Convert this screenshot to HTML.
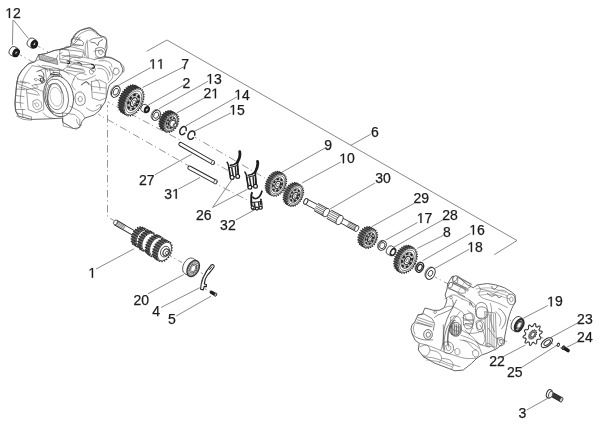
<!DOCTYPE html>
<html><head><meta charset="utf-8"><style>
html,body{margin:0;padding:0;background:#fff;}
svg{display:block;will-change:transform;}
text{font-family:"Liberation Sans",sans-serif;font-size:14px;fill:#1c1c1c;stroke:#1c1c1c;stroke-width:0.25px;}
</style></head><body>
<svg width="600" height="424" viewBox="0 0 600 424">
<polyline points="146.7,51.3 167.0,40.0 517.0,240.5 494.2,254.7" fill="none" stroke="#6a6a6a" stroke-width="0.8"/>
<line x1="13" y1="20" x2="12.4" y2="44.8" stroke="#6a6a6a" stroke-width="0.8"/>
<line x1="13.5" y1="20" x2="28.3" y2="38.4" stroke="#6a6a6a" stroke-width="0.8"/>
<line x1="150.8" y1="67.5" x2="116.7" y2="86.3" stroke="#6a6a6a" stroke-width="0.8"/>
<line x1="184" y1="66.7" x2="142.5" y2="87.5" stroke="#6a6a6a" stroke-width="0.8"/>
<line x1="184" y1="85" x2="148.3" y2="105" stroke="#6a6a6a" stroke-width="0.8"/>
<line x1="208" y1="81.3" x2="159" y2="108.7" stroke="#6a6a6a" stroke-width="0.8"/>
<line x1="204.2" y1="98" x2="176.7" y2="113" stroke="#6a6a6a" stroke-width="0.8"/>
<line x1="236.7" y1="97" x2="185.8" y2="125.8" stroke="#6a6a6a" stroke-width="0.8"/>
<line x1="230.8" y1="113" x2="194" y2="131.5" stroke="#6a6a6a" stroke-width="0.8"/>
<line x1="350.8" y1="145.3" x2="370.8" y2="134.2" stroke="#6a6a6a" stroke-width="0.8"/>
<line x1="325" y1="148" x2="280" y2="173.3" stroke="#6a6a6a" stroke-width="0.8"/>
<line x1="340.8" y1="162" x2="302" y2="183" stroke="#6a6a6a" stroke-width="0.8"/>
<line x1="155" y1="174.7" x2="191.7" y2="154.2" stroke="#6a6a6a" stroke-width="0.8"/>
<line x1="178.3" y1="189.2" x2="200" y2="177.5" stroke="#6a6a6a" stroke-width="0.8"/>
<line x1="212.5" y1="207.5" x2="231.7" y2="180" stroke="#6a6a6a" stroke-width="0.8"/>
<line x1="212.5" y1="207.5" x2="247.5" y2="189.2" stroke="#6a6a6a" stroke-width="0.8"/>
<line x1="235.8" y1="220" x2="254.2" y2="210" stroke="#6a6a6a" stroke-width="0.8"/>
<line x1="375" y1="183" x2="330" y2="209" stroke="#6a6a6a" stroke-width="0.8"/>
<line x1="414.2" y1="203.3" x2="371.7" y2="226.7" stroke="#6a6a6a" stroke-width="0.8"/>
<line x1="417.5" y1="222.5" x2="385.8" y2="240" stroke="#6a6a6a" stroke-width="0.8"/>
<line x1="443" y1="219.7" x2="393.3" y2="247.5" stroke="#6a6a6a" stroke-width="0.8"/>
<line x1="443.3" y1="235.3" x2="417.5" y2="248.3" stroke="#6a6a6a" stroke-width="0.8"/>
<line x1="470.5" y1="233.3" x2="422.5" y2="260.8" stroke="#6a6a6a" stroke-width="0.8"/>
<line x1="469.2" y1="249.2" x2="435" y2="268.3" stroke="#6a6a6a" stroke-width="0.8"/>
<line x1="96" y1="269" x2="134" y2="248.8" stroke="#6a6a6a" stroke-width="0.8"/>
<line x1="148" y1="293.8" x2="183.8" y2="274.5" stroke="#6a6a6a" stroke-width="0.8"/>
<line x1="161" y1="307.5" x2="199.8" y2="287.7" stroke="#6a6a6a" stroke-width="0.8"/>
<line x1="176.2" y1="316" x2="211" y2="296.2" stroke="#6a6a6a" stroke-width="0.8"/>
<line x1="547.8" y1="305.5" x2="521.9" y2="319" stroke="#6a6a6a" stroke-width="0.8"/>
<line x1="578.5" y1="322.5" x2="550.2" y2="337.8" stroke="#6a6a6a" stroke-width="0.8"/>
<line x1="578.5" y1="341.4" x2="566.7" y2="347.3" stroke="#6a6a6a" stroke-width="0.8"/>
<line x1="500.6" y1="358" x2="525.4" y2="345" stroke="#6a6a6a" stroke-width="0.8"/>
<line x1="521.9" y1="367.3" x2="557.3" y2="345" stroke="#6a6a6a" stroke-width="0.8"/>
<line x1="526.7" y1="410" x2="549.2" y2="397.5" stroke="#6a6a6a" stroke-width="0.8"/>
<polyline points="19.8,54.7 34.0,62.8" fill="none" stroke="#7a7a7a" stroke-width="0.8" stroke-dasharray="7.5 2.8 1.2 3.5" stroke-dashoffset="5"/>
<polyline points="38.2,46.2 48.0,51.8" fill="none" stroke="#7a7a7a" stroke-width="0.8" stroke-dasharray="7.5 2.8 1.2 3.5" stroke-dashoffset="5"/>
<polyline points="107.5,101.7 180.0,140.0" fill="none" stroke="#7a7a7a" stroke-width="0.8" stroke-dasharray="7.5 2.8 1.2 3.5" stroke-dashoffset="5"/>
<polyline points="98.3,114.2 189.0,166.0" fill="none" stroke="#7a7a7a" stroke-width="0.8" stroke-dasharray="7.5 2.8 1.2 3.5" stroke-dashoffset="5"/>
<polyline points="107.5,105.0 107.5,217.0 114.0,220.5" fill="none" stroke="#7a7a7a" stroke-width="0.8" stroke-dasharray="7.5 2.8 1.2 3.5" stroke-dashoffset="5"/>
<polyline points="194.5,137.0 266.5,179.0" fill="none" stroke="#7a7a7a" stroke-width="0.8" stroke-dasharray="7.5 2.8 1.2 3.5" stroke-dashoffset="5"/>
<polyline points="214.5,183.0 251.0,202.0" fill="none" stroke="#7a7a7a" stroke-width="0.8" stroke-dasharray="7.5 2.8 1.2 3.5" stroke-dashoffset="5"/>
<polyline points="213.0,162.0 228.0,170.5" fill="none" stroke="#7a7a7a" stroke-width="0.8" stroke-dasharray="7.5 2.8 1.2 3.5" stroke-dashoffset="5"/>
<polyline points="169.6,255.7 182.0,262.5" fill="none" stroke="#7a7a7a" stroke-width="0.8" stroke-dasharray="7.5 2.8 1.2 3.5" stroke-dashoffset="5"/>
<polyline points="200.8,272.6 205.0,275.0" fill="none" stroke="#7a7a7a" stroke-width="0.8" stroke-dasharray="7.5 2.8 1.2 3.5" stroke-dashoffset="5"/>
<polyline points="204.5,288.7 211.0,291.5" fill="none" stroke="#7a7a7a" stroke-width="0.8" stroke-dasharray="7.5 2.8 1.2 3.5" stroke-dashoffset="5"/>
<polyline points="435.0,277.0 452.0,286.0" fill="none" stroke="#7a7a7a" stroke-width="0.8" stroke-dasharray="7.5 2.8 1.2 3.5" stroke-dashoffset="5"/>
<polyline points="505.0,318.0 512.0,321.0" fill="none" stroke="#7a7a7a" stroke-width="0.8" stroke-dasharray="7.5 2.8 1.2 3.5" stroke-dashoffset="5"/>
<polyline points="525.0,329.0 528.0,331.0" fill="none" stroke="#7a7a7a" stroke-width="0.8" stroke-dasharray="7.5 2.8 1.2 3.5" stroke-dashoffset="5"/>
<polyline points="541.0,337.0 545.0,339.0" fill="none" stroke="#7a7a7a" stroke-width="0.8" stroke-dasharray="7.5 2.8 1.2 3.5" stroke-dashoffset="5"/>
<polyline points="551.0,343.0 563.0,349.0" fill="none" stroke="#7a7a7a" stroke-width="0.8" stroke-dasharray="7.5 2.8 1.2 3.5" stroke-dashoffset="5"/>
<polygon points="15.8,111.2 15.0,102.9 15.8,93.0 16.6,84.8 18.3,76.5 22.4,69.9 28.2,64.1 35.0,61.8 38.6,54.8 45.7,53.6 53.9,50.6 62.2,48.9 70.4,46.5 71.8,40.3 76.0,34.0 80.6,30.3 89.5,27.9 95.4,31.4 98.9,35.0 103.0,36.5 106.6,40.0 107.0,48.0 104.5,56.8 111.6,58.2 120.0,62.4 122.9,69.5 121.9,73.3 116.1,79.9 109.5,84.8 107.9,89.8 106.5,97.0 105.0,102.0 103.0,105.0 99.0,111.0 94.0,115.0 85.0,118.0 82.0,121.5 80.0,126.5 76.5,129.0 73.5,128.5 62.5,122.0 62.5,118.0 55.0,118.5 45.0,119.0 31.5,119.4 18.3,116.0" fill="#fff" stroke="#555" stroke-width="0.9" stroke-linejoin="round"/>
<path d="M28.2,64.1 C27.2,65.1 24.0,67.8 22.4,69.9 C20.7,72.0 19.2,74.0 18.3,76.5 C17.3,79.0 17.0,82.0 16.6,84.8 C16.2,87.5 16.1,90.0 15.8,93.0 C15.5,96.0 15.0,99.9 15.0,102.9 C15.0,105.9 15.2,109.2 15.8,111.2 C16.3,113.1 17.8,113.9 18.3,114.5" fill="none" stroke="#555" stroke-width="0.8" stroke-linejoin="round" stroke-linecap="round"/>
<path d="M31.5,66.6 C30.6,67.7 27.9,71.0 26.5,73.2 C25.1,75.4 24.0,77.3 23.2,79.8 C22.4,82.3 22.0,85.6 21.6,88.1 C21.1,90.5 20.9,92.5 20.7,94.7 C20.5,96.9 20.2,99.1 20.2,101.3 C20.3,103.5 20.8,106.8 20.9,107.9" fill="none" stroke="#5c5c5c" stroke-width="0.6" stroke-linejoin="round" stroke-linecap="round"/>
<path d="M16.6,81.5 L25.7,83.1" fill="none" stroke="#5c5c5c" stroke-width="0.6" stroke-linejoin="round" stroke-linecap="round"/>
<path d="M16.3,88.9 L24.9,89.7" fill="none" stroke="#5c5c5c" stroke-width="0.6" stroke-linejoin="round" stroke-linecap="round"/>
<path d="M15.8,95.5 L24.0,96.6" fill="none" stroke="#5c5c5c" stroke-width="0.6" stroke-linejoin="round" stroke-linecap="round"/>
<path d="M15.4,102.1 L23.2,103.2" fill="none" stroke="#5c5c5c" stroke-width="0.6" stroke-linejoin="round" stroke-linecap="round"/>
<path d="M15.8,109.5 L24.9,109.5" fill="none" stroke="#5c5c5c" stroke-width="0.6" stroke-linejoin="round" stroke-linecap="round"/>
<ellipse cx="0" cy="0" rx="14.60" ry="20.60" transform="translate(58.60 96.30) rotate(-12.0)" fill="#fff" stroke="#555" stroke-width="0.9"/>
<ellipse cx="0" cy="0" rx="11.40" ry="17.60" transform="translate(56.80 96.40) rotate(-12.0)" fill="none" stroke="#5a5a5a" stroke-width="0.8"/>
<ellipse cx="0" cy="0" rx="8.20" ry="13.40" transform="translate(55.20 96.60) rotate(-12.0)" fill="none" stroke="#666" stroke-width="0.7"/>
<path d="M51.5,84.5 C47.8,89 46.8,99 48.6,106.5 C49.6,110 51.2,111.8 53.4,112.6" fill="none" stroke="#444" stroke-width="1.0"/>
<ellipse cx="0" cy="0" rx="5.80" ry="9.60" transform="translate(56.00 96.80) rotate(-12.0)" fill="none" stroke="#999" stroke-width="0.6"/>
<path d="M26.5,89.7 L34.8,88.1 L43.0,91.4 L43.8,109.5 L36.4,112.8 L28.2,109.5 L26.5,89.7" fill="none" stroke="#5c5c5c" stroke-width="0.6" stroke-linejoin="round" stroke-linecap="round"/>
<path d="M33.1,101.3 C33.8,101.0 35.9,99.3 37.2,99.6 C38.6,99.9 40.7,101.5 41.4,102.9 C42.0,104.3 41.8,106.8 41.0,107.9 C40.2,109.0 37.7,109.8 36.4,109.5 C35.1,109.2 33.7,107.6 33.1,106.2 C32.6,104.8 33.1,102.1 33.1,101.3" fill="none" stroke="#5c5c5c" stroke-width="0.6" stroke-linejoin="round" stroke-linecap="round"/>
<path d="M34.8,103.7 C35.2,103.6 36.5,102.6 37.2,102.9 C37.9,103.2 39.0,104.7 38.9,105.4 C38.8,106.1 37.4,107.3 36.7,107.0 C36.0,106.8 35.1,104.3 34.8,103.7" fill="none" stroke="#5c5c5c" stroke-width="0.5" stroke-linejoin="round" stroke-linecap="round"/>
<path d="M16.6,112.8 L23.2,114.5 L31.5,116.9 L31.5,120.2 L23.2,119.4 L16.6,116.1" fill="none" stroke="#5c5c5c" stroke-width="0.6" stroke-linejoin="round" stroke-linecap="round"/>
<path d="M22.4,109.5 L22.9,117.8" fill="none" stroke="#5c5c5c" stroke-width="0.6" stroke-linejoin="round" stroke-linecap="round"/>
<path d="M38.1,65.0 C39.7,65.8 43.8,69.1 48.0,69.9 C52.1,70.7 59.2,71.0 62.8,69.9 C66.4,68.8 68.3,64.4 69.4,63.3" fill="none" stroke="#5c5c5c" stroke-width="0.6" stroke-linejoin="round" stroke-linecap="round"/>
<path d="M34.8,84.8 C36.1,84.5 40.8,84.2 43.0,83.1 C45.2,82.0 46.6,79.8 48.0,78.2 C49.3,76.5 50.7,74.0 51.3,73.2" fill="none" stroke="#5c5c5c" stroke-width="0.6" stroke-linejoin="round" stroke-linecap="round"/>
<path d="M38.9,75.7 C39.4,75.8 41.4,75.8 42.2,76.5 C43.0,77.2 44.0,78.8 43.8,79.8 C43.7,80.8 41.8,81.9 41.4,82.3" fill="none" stroke="#333" stroke-width="0.9" stroke-linejoin="round" stroke-linecap="round"/>
<path d="M43.0,112.8 C43.8,113.5 46.0,116.0 48.0,116.9 C49.9,117.9 53.5,118.3 54.6,118.6" fill="none" stroke="#5c5c5c" stroke-width="0.6" stroke-linejoin="round" stroke-linecap="round"/>
<path d="M38.6,54.8 C39.8,54.6 43.1,54.3 45.7,53.6 C48.2,52.9 51.2,51.4 53.9,50.6 C56.7,49.9 59.4,49.6 62.2,48.9 C64.9,48.2 68.1,47.7 70.4,46.5 C72.8,45.3 74.7,43.4 76.3,41.8 C77.9,40.2 79.4,37.9 80.0,37.1" fill="none" stroke="#555" stroke-width="0.7" stroke-linejoin="round" stroke-linecap="round"/>
<path d="M39.2,55.4 L40.4,59.5 L48.0,61.8 L56.3,59.5 L57.5,55.4" fill="none" stroke="#5c5c5c" stroke-width="0.6" stroke-linejoin="round" stroke-linecap="round"/>
<path d="M41.5,56.5 L43.3,60.1" fill="none" stroke="#888" stroke-width="0.5" stroke-linejoin="round" stroke-linecap="round"/>
<path d="M43.9,56.9 L45.7,60.4" fill="none" stroke="#888" stroke-width="0.5" stroke-linejoin="round" stroke-linecap="round"/>
<path d="M46.2,57.2 L48.0,60.8" fill="none" stroke="#888" stroke-width="0.5" stroke-linejoin="round" stroke-linecap="round"/>
<path d="M48.6,57.6 L50.4,61.1" fill="none" stroke="#888" stroke-width="0.5" stroke-linejoin="round" stroke-linecap="round"/>
<path d="M51.0,57.9 L52.7,61.5" fill="none" stroke="#888" stroke-width="0.5" stroke-linejoin="round" stroke-linecap="round"/>
<path d="M53.3,58.3 L55.1,61.8" fill="none" stroke="#888" stroke-width="0.5" stroke-linejoin="round" stroke-linecap="round"/>
<path d="M59.8,50.6 C60.1,50.3 60.3,49.0 61.6,48.9 C62.9,48.8 66.2,49.5 67.5,50.0 C68.8,50.6 68.9,50.5 69.2,52.4 C69.6,54.3 70.0,59.5 69.8,61.2 C69.6,63.0 69.4,62.9 68.1,63.0 C66.7,63.1 63.0,62.3 61.6,61.8 C60.2,61.3 60.1,61.9 59.8,60.1 C59.5,58.2 59.8,52.2 59.8,50.6" fill="none" stroke="#5c5c5c" stroke-width="0.6" stroke-linejoin="round" stroke-linecap="round"/>
<path d="M71.6,39.4 C72.0,39.0 72.8,37.3 74.0,37.1 C75.1,36.9 77.7,37.7 78.7,38.3 C79.7,38.8 79.8,40.2 80.0,40.6" fill="none" stroke="#5c5c5c" stroke-width="0.6" stroke-linejoin="round" stroke-linecap="round"/>
<path d="M71.6,39.4 C71.6,40.2 70.8,43.1 71.6,44.2 C72.4,45.2 74.9,45.7 76.3,45.9 C77.7,46.1 79.4,45.4 80.0,45.3" fill="none" stroke="#5c5c5c" stroke-width="0.6" stroke-linejoin="round" stroke-linecap="round"/>
<path d="M42.1,65.4 C43.5,65.6 47.8,66.0 50.4,66.6 C52.9,67.1 55.1,68.1 57.5,68.9 C59.8,69.7 62.6,70.3 64.5,71.3 C66.5,72.3 68.5,74.2 69.2,74.8" fill="none" stroke="#5c5c5c" stroke-width="0.6" stroke-linejoin="round" stroke-linecap="round"/>
<path d="M38.6,71.3 C39.4,70.9 41.3,69.3 43.3,68.9 C45.3,68.5 48.6,68.3 50.4,68.9 C52.1,69.5 53.5,71.1 53.9,72.5 C54.3,73.8 52.9,76.4 52.7,77.2" fill="none" stroke="#5c5c5c" stroke-width="0.6" stroke-linejoin="round" stroke-linecap="round"/>
<path d="M69.2,59.5 C70.0,59.1 72.2,57.3 74.0,57.1 C75.8,56.9 79.0,58.1 80.0,58.3" fill="none" stroke="#5c5c5c" stroke-width="0.6" stroke-linejoin="round" stroke-linecap="round"/>
<path d="M70.4,65.4 C71.4,65.0 74.7,63.2 76.3,63.0 C77.9,62.8 79.4,64.0 80.0,64.2" fill="none" stroke="#5c5c5c" stroke-width="0.6" stroke-linejoin="round" stroke-linecap="round"/>
<path d="M50.4,74.8 C51.0,74.4 52.3,72.6 53.9,72.5 C55.5,72.3 58.4,72.8 59.8,73.6 C61.2,74.4 61.8,76.6 62.2,77.2" fill="none" stroke="#444" stroke-width="0.8" stroke-linejoin="round" stroke-linecap="round"/>
<path d="M71.2,40.9 C71.9,39.7 73.8,35.6 75.3,33.8 C76.9,32.0 78.3,31.3 80.6,30.3 C83.0,29.2 87.0,27.6 89.5,27.7 C91.9,27.8 93.7,29.6 95.4,30.8 C97.0,32.1 98.5,33.9 99.5,35.0 C100.5,36.1 101.0,36.9 101.3,37.3" fill="none" stroke="#555" stroke-width="0.8" stroke-linejoin="round" stroke-linecap="round"/>
<path d="M74.7,41.5 C75.4,40.4 77.4,36.5 78.9,35.0 C80.3,33.4 81.7,32.8 83.6,32.0 C85.5,31.2 88.1,29.9 90.1,30.0 C92.0,30.1 94.1,31.7 95.4,32.6 C96.7,33.5 97.3,35.1 97.7,35.6" fill="none" stroke="#5c5c5c" stroke-width="0.6" stroke-linejoin="round" stroke-linecap="round"/>
<path d="M71.8,39.7 L73.0,38.5 L81.2,40.3 L83.6,42.6 L83.0,45.6 L74.2,44.4 L71.8,42.6 L71.8,39.7" fill="none" stroke="#555" stroke-width="0.7" stroke-linejoin="round" stroke-linecap="round"/>
<path d="M87.1,41.5 C86.8,42.1 85.6,43.5 85.4,45.6 C85.1,47.6 85.0,51.9 85.4,53.8 C85.7,55.8 87.3,56.8 87.7,57.4" fill="none" stroke="#5c5c5c" stroke-width="0.6" stroke-linejoin="round" stroke-linecap="round"/>
<path d="M88.9,40.9 C89.7,40.5 91.9,39.0 93.6,38.5 C95.3,38.0 97.1,38.2 98.9,37.9 C100.7,37.6 102.9,36.5 104.2,36.7 C105.5,36.9 106.3,37.8 106.6,39.1 C106.9,40.4 106.3,42.7 106.0,44.4 C105.7,46.1 105.0,48.3 104.8,49.1" fill="none" stroke="#5c5c5c" stroke-width="0.7" stroke-linejoin="round" stroke-linecap="round"/>
<path d="M96.0,48.5 C96.8,48.3 99.2,47.2 100.7,47.4 C102.2,47.6 104.0,48.5 104.8,49.7 C105.6,50.9 105.9,53.2 105.4,54.4 C104.9,55.7 103.2,57.0 101.9,57.4 C100.5,57.8 98.2,57.5 97.1,56.8 C96.1,56.1 95.6,54.6 95.4,53.2 C95.2,51.9 95.9,49.3 96.0,48.5" fill="none" stroke="#555" stroke-width="0.7" stroke-linejoin="round" stroke-linecap="round"/>
<path d="M98.9,50.3 C99.4,50.2 101.2,49.3 101.9,49.7 C102.6,50.1 103.2,51.9 103.0,52.7 C102.8,53.4 101.4,54.4 100.7,54.4 C100.0,54.5 99.0,53.6 98.7,52.9 C98.4,52.2 98.9,50.7 98.9,50.3" fill="none" stroke="#5c5c5c" stroke-width="0.6" stroke-linejoin="round" stroke-linecap="round"/>
<path d="M90.7,42.0 C91.4,42.2 94.2,42.6 95.4,43.2 C96.6,43.8 97.1,45.8 97.7,45.6 C98.3,45.4 98.1,43.0 98.9,42.0 C99.7,41.1 101.9,40.1 102.5,39.7" fill="none" stroke="#444" stroke-width="0.8" stroke-linejoin="round" stroke-linecap="round"/>
<path d="M60.0,50.3 L67.1,46.2 L74.2,47.4 L83.6,50.3 L84.8,56.2" fill="none" stroke="#5c5c5c" stroke-width="0.6" stroke-linejoin="round" stroke-linecap="round"/>
<path d="M62.4,57.4 C63.9,57.0 68.3,55.0 71.8,55.0 C75.3,55.0 80.4,56.8 83.6,57.4 C86.7,58.0 88.9,58.2 90.7,58.6 C92.4,58.9 93.6,59.5 94.2,59.7" fill="none" stroke="#5c5c5c" stroke-width="0.6" stroke-linejoin="round" stroke-linecap="round"/>
<path d="M94.2,59.7 C95.6,59.3 99.7,57.8 102.5,57.4 C105.2,57.0 108.0,56.6 110.7,57.4 C113.5,58.2 116.8,60.5 119.0,62.1 C121.1,63.7 122.9,65.2 123.7,66.8 C124.5,68.5 123.7,71.1 123.7,72.0" fill="none" stroke="#555" stroke-width="0.7" stroke-linejoin="round" stroke-linecap="round"/>
<path d="M69.4,60.9 C70.4,61.2 73.0,62.1 75.3,62.7 C77.7,63.3 80.8,64.2 83.6,64.5 C86.3,64.7 90.5,64.5 91.8,64.5" fill="none" stroke="#5c5c5c" stroke-width="0.6" stroke-linejoin="round" stroke-linecap="round"/>
<path d="M67.1,65.6 C68.3,66.0 71.4,67.4 74.2,68.0 C76.9,68.6 82.0,69.0 83.6,69.2" fill="none" stroke="#5c5c5c" stroke-width="0.6" stroke-linejoin="round" stroke-linecap="round"/>
<path d="M98.9,60.9 C100.1,60.9 104.0,60.5 106.0,60.9 C108.0,61.3 109.7,62.3 110.7,63.3 C111.7,64.3 111.7,66.2 111.9,66.8" fill="none" stroke="#5c5c5c" stroke-width="0.6" stroke-linejoin="round" stroke-linecap="round"/>
<path d="M62.5,112.9 L63.3,126.1 L73.2,128.5 L79.8,127.7 L79.8,119.5 L74.9,114.5 L62.5,112.9" fill="none" stroke="#5c5c5c" stroke-width="0.6" stroke-linejoin="round" stroke-linecap="round"/>
<path d="M74.9,98.0 C75.1,97.2 75.4,94.0 76.5,93.1 C77.6,92.1 80.1,91.7 81.5,92.2 C82.8,92.8 84.2,94.6 84.8,96.4 C85.3,98.1 85.4,101.4 84.8,103.0 C84.1,104.5 82.0,105.3 80.6,105.4 C79.3,105.6 77.5,105.0 76.5,103.8 C75.5,102.5 75.1,99.0 74.9,98.0" fill="none" stroke="#555" stroke-width="0.7" stroke-linejoin="round" stroke-linecap="round"/>
<path d="M78.2,98.8 C78.4,98.4 79.1,96.5 79.8,96.4 C80.5,96.2 82.0,97.2 82.3,98.0 C82.6,98.8 82.0,100.8 81.5,101.3 C80.9,101.9 79.5,101.7 79.0,101.3 C78.4,100.9 78.3,99.2 78.2,98.8" fill="none" stroke="#5c5c5c" stroke-width="0.6" stroke-linejoin="round" stroke-linecap="round"/>
<path d="M91.4,81.5 L99.6,79.9 L106.2,83.2 L106.2,98.0 L99.6,100.5 L92.2,98.0 L91.4,81.5" fill="none" stroke="#5c5c5c" stroke-width="0.6" stroke-linejoin="round" stroke-linecap="round"/>
<path d="M92.2,86.5 L106.2,88.1" fill="none" stroke="#5c5c5c" stroke-width="0.5" stroke-linejoin="round" stroke-linecap="round"/>
<path d="M93.0,92.2 L105.4,93.9" fill="none" stroke="#5c5c5c" stroke-width="0.5" stroke-linejoin="round" stroke-linecap="round"/>
<path d="M86.4,107.9 C87.5,108.5 90.8,111.2 93.0,111.2 C95.2,111.2 98.2,109.0 99.6,107.9 C101.0,106.8 101.0,105.2 101.3,104.6" fill="none" stroke="#5c5c5c" stroke-width="0.6" stroke-linejoin="round" stroke-linecap="round"/>
<path d="M69.9,106.3 C71.0,106.8 74.6,108.5 76.5,109.6 C78.4,110.7 80.1,111.5 81.5,112.9 C82.8,114.2 84.2,117.0 84.8,117.8" fill="none" stroke="#5c5c5c" stroke-width="0.6" stroke-linejoin="round" stroke-linecap="round"/>
<path d="M73.2,79.9 C73.8,79.0 75.1,76.0 76.5,74.9 C77.9,73.8 79.8,73.3 81.5,73.3 C83.1,73.3 85.6,74.6 86.4,74.9" fill="none" stroke="#5c5c5c" stroke-width="0.6" stroke-linejoin="round" stroke-linecap="round"/>
<path d="M89.7,68.3 C90.3,68.9 92.0,71.3 93.0,71.6 C94.0,71.9 95.3,70.8 95.5,70.0 C95.6,69.1 94.1,67.2 93.8,66.7" fill="none" stroke="#5c5c5c" stroke-width="0.6" stroke-linejoin="round" stroke-linecap="round"/>
<path d="M109.5,66.7 C110.1,68.0 112.5,72.7 112.8,74.9 C113.1,77.1 112.0,78.5 111.2,79.9 C110.3,81.2 108.4,82.6 107.9,83.2" fill="none" stroke="#5c5c5c" stroke-width="0.6" stroke-linejoin="round" stroke-linecap="round"/>
<path d="M114.5,68.3 C115.0,68.3 117.0,67.8 117.8,68.3 C118.5,68.9 119.2,70.6 119.1,71.6 C118.9,72.6 117.8,74.2 116.9,74.6 C116.1,75.0 114.8,74.6 114.1,74.1 C113.5,73.5 113.1,72.2 113.1,71.3 C113.2,70.3 114.2,68.8 114.5,68.3" fill="none" stroke="#555" stroke-width="0.7" stroke-linejoin="round" stroke-linecap="round"/>
<path d="M81.5,84.8 C82.3,84.3 85.2,81.5 86.4,81.5 C87.6,81.5 88.5,84.3 88.9,84.8" fill="none" stroke="#444" stroke-width="0.8" stroke-linejoin="round" stroke-linecap="round"/>
<path d="M96.3,106.3 C96.9,106.0 98.8,104.6 99.6,104.6 C100.4,104.6 101.1,105.4 101.3,106.3 C101.4,107.1 100.6,109.0 100.4,109.6" fill="none" stroke="#5c5c5c" stroke-width="0.6" stroke-linejoin="round" stroke-linecap="round"/>
<path d="M76.5,119.5 C76.8,120.3 77.3,123.4 78.2,124.4 C79.0,125.4 80.9,125.1 81.5,125.2" fill="none" stroke="#5c5c5c" stroke-width="0.6" stroke-linejoin="round" stroke-linecap="round"/>
<path d="M38.5,55.1 L40.3,54.5 L56.8,59.2 L57.8,64.5 L39.7,59.8 L38.5,55.1" fill="none" stroke="#555" stroke-width="0.7" stroke-linejoin="round" stroke-linecap="round"/>
<path d="M40.1,55.8 L57.0,60.5" fill="none" stroke="#777" stroke-width="0.5" stroke-linejoin="round" stroke-linecap="round"/>
<path d="M40.1,56.8 L57.0,61.6" fill="none" stroke="#777" stroke-width="0.5" stroke-linejoin="round" stroke-linecap="round"/>
<path d="M40.1,57.9 L57.0,62.6" fill="none" stroke="#777" stroke-width="0.5" stroke-linejoin="round" stroke-linecap="round"/>
<path d="M40.1,59.0 L57.0,63.7" fill="none" stroke="#777" stroke-width="0.5" stroke-linejoin="round" stroke-linecap="round"/>
<path d="M28.5,63.3 C29.7,62.9 33.8,61.6 35.6,61.0 C37.4,60.4 38.5,60.0 39.1,59.8" fill="none" stroke="#5c5c5c" stroke-width="0.6" stroke-linejoin="round" stroke-linecap="round"/>
<path d="M32.0,65.7 C34.2,66.1 42.5,67.1 45.0,68.0 C47.6,69.0 47.0,71.0 47.4,71.6" fill="none" stroke="#5c5c5c" stroke-width="0.6" stroke-linejoin="round" stroke-linecap="round"/>
<path d="M49.7,69.2 L59.2,68.6 L59.8,75.7 L50.9,76.3 L49.7,69.2" fill="none" stroke="#5c5c5c" stroke-width="0.6" stroke-linejoin="round" stroke-linecap="round"/>
<path d="M50.9,74.2 L59.2,74.9" fill="none" stroke="#333" stroke-width="0.9" stroke-linejoin="round" stroke-linecap="round"/>
<path d="M45.0,68.0 C45.4,70.6 46.4,80.2 47.4,83.4 C48.4,86.5 50.3,86.3 50.9,86.9" fill="none" stroke="#5c5c5c" stroke-width="0.6" stroke-linejoin="round" stroke-linecap="round"/>
<path d="M16.7,83.4 C18.3,84.0 22.8,85.5 26.2,86.9 C29.5,88.3 34.6,90.3 36.8,91.6 C38.9,93.0 38.7,94.6 39.1,95.2" fill="none" stroke="#5c5c5c" stroke-width="0.6" stroke-linejoin="round" stroke-linecap="round"/>
<path d="M20.3,81.0 L29.7,83.4" fill="none" stroke="#5c5c5c" stroke-width="0.6" stroke-linejoin="round" stroke-linecap="round"/>
<path d="M19.1,86.9 L27.3,89.3" fill="none" stroke="#5c5c5c" stroke-width="0.6" stroke-linejoin="round" stroke-linecap="round"/>
<path d="M27.3,92.8 L37.9,95.2" fill="none" stroke="#5c5c5c" stroke-width="0.6" stroke-linejoin="round" stroke-linecap="round"/>
<path d="M36.8,71.6 C37.4,71.4 39.2,70.2 40.3,70.4 C41.4,70.6 42.7,71.6 43.2,72.8 C43.8,73.9 44.1,76.1 43.8,77.5 C43.5,78.9 42.4,80.6 41.5,81.0 C40.6,81.4 39.0,80.0 38.5,79.8" fill="none" stroke="#444" stroke-width="0.8" stroke-linejoin="round" stroke-linecap="round"/>
<path d="M40.3,78.7 C40.7,78.6 42.0,77.8 42.7,78.1 C43.3,78.4 44.4,79.6 44.4,80.4 C44.5,81.2 43.5,82.6 42.9,82.8 C42.3,83.0 41.3,82.3 40.9,81.6 C40.5,80.9 40.4,79.2 40.3,78.7" fill="none" stroke="#333" stroke-width="0.9" stroke-linejoin="round" stroke-linecap="round"/>
<path d="M34.4,79.2 C34.7,79.1 35.7,78.3 36.2,78.4 C36.7,78.5 37.5,79.4 37.4,79.8 C37.3,80.2 36.1,80.9 35.6,80.8 C35.1,80.7 34.6,79.5 34.4,79.2" fill="none" stroke="#5c5c5c" stroke-width="0.6" stroke-linejoin="round" stroke-linecap="round"/>
<path d="M50.9,84.6 C51.9,84.4 55.2,83.0 56.8,83.4 C58.4,83.8 59.5,85.3 60.3,86.9 C61.2,88.5 61.7,91.8 62.0,92.8" fill="none" stroke="#555" stroke-width="0.7" stroke-linejoin="round" stroke-linecap="round"/>
<path d="M32.0,85.7 C32.6,85.5 34.6,84.4 35.6,84.6 C36.6,84.8 38.0,86.3 37.9,86.9 C37.8,87.5 36.0,88.3 35.0,88.1 C34.0,87.9 32.5,86.1 32.0,85.7" fill="none" stroke="#5c5c5c" stroke-width="0.6" stroke-linejoin="round" stroke-linecap="round"/>
<path d="M59.2,53.9 L62.0,52.7" fill="none" stroke="#5c5c5c" stroke-width="0.6" stroke-linejoin="round" stroke-linecap="round"/>
<path d="M62.4,49.4 C65.6,49.8 78.5,50.8 81.8,51.8 C85.2,52.8 82.7,54.3 82.4,55.3 C82.1,56.3 83.5,57.7 80.0,57.7 C76.6,57.7 64.8,55.7 61.8,55.3" fill="none" stroke="#555" stroke-width="0.6" stroke-linejoin="round" stroke-linecap="round"/>
<path d="M74.2,60.0 C77.3,60.7 89.7,63.0 93.0,64.2 C96.4,65.4 94.4,66.4 94.2,67.1 C94.0,67.8 95.4,68.9 91.8,68.3 C88.3,67.7 76.1,64.4 73.0,63.6" fill="none" stroke="#555" stroke-width="0.6" stroke-linejoin="round" stroke-linecap="round"/>
<path d="M91.6,64.5 C91.9,64.6 93.2,64.5 93.6,65.0 C94.0,65.5 94.5,67.2 94.2,67.7 C93.9,68.2 92.4,68.0 92.1,68.1" fill="none" stroke="#222" stroke-width="1.2" stroke-linejoin="round" stroke-linecap="round"/>
<path d="M60.0,58.9 C61.6,59.2 67.7,59.9 69.4,60.6 C71.2,61.4 72.2,63.3 70.6,63.6 C69.0,63.9 61.8,62.6 60.0,62.4" fill="none" stroke="#5c5c5c" stroke-width="0.6" stroke-linejoin="round" stroke-linecap="round"/>
<path d="M67.1,67.1 C69.6,67.6 79.7,69.2 82.4,70.1 C85.2,71.0 86.2,72.4 83.6,72.4 C80.9,72.4 69.3,70.5 66.5,70.1" fill="none" stroke="#5c5c5c" stroke-width="0.6" stroke-linejoin="round" stroke-linecap="round"/>
<path d="M67.1,61.0 C67.4,61.0 68.5,60.8 68.8,61.2 C69.2,61.6 69.6,63.0 69.4,63.3 C69.2,63.7 68.0,63.5 67.7,63.6" fill="none" stroke="#222" stroke-width="1.1" stroke-linejoin="round" stroke-linecap="round"/>
<path d="M77.7,62.4 C78.2,62.5 80.0,62.5 80.6,63.0 C81.3,63.5 81.3,65.0 81.5,65.4" fill="none" stroke="#333" stroke-width="0.9" stroke-linejoin="round" stroke-linecap="round"/>
<path d="M87.1,40.0 C87.2,41.6 87.5,46.5 87.7,49.4 C87.9,52.4 88.2,56.3 88.3,57.7" fill="none" stroke="#5c5c5c" stroke-width="0.6" stroke-linejoin="round" stroke-linecap="round"/>
<path d="M94.2,51.8 C94.4,51.6 94.0,50.7 95.4,50.6 C96.8,50.5 100.8,50.6 102.5,51.2 C104.1,51.8 105.0,53.1 105.4,54.2 C105.8,55.2 105.3,56.9 104.8,57.7 C104.3,58.5 104.0,58.9 102.5,58.9 C100.9,58.9 96.6,57.9 95.4,57.7" fill="none" stroke="#5c5c5c" stroke-width="0.6" stroke-linejoin="round" stroke-linecap="round"/>
<path d="M95.4,64.8 C96.6,65.0 100.3,65.0 102.5,65.9 C104.6,66.9 107.1,69.1 108.3,70.7 C109.6,72.2 109.7,74.6 110.0,75.4" fill="none" stroke="#555" stroke-width="0.7" stroke-linejoin="round" stroke-linecap="round"/>
<path d="M97.7,68.3 C98.7,68.5 102.1,68.5 103.6,69.5 C105.2,70.5 106.4,72.4 107.2,74.2 C108.0,76.0 108.2,79.1 108.3,80.1" fill="none" stroke="#5c5c5c" stroke-width="0.6" stroke-linejoin="round" stroke-linecap="round"/>
<path d="M60.0,69.5 C62.4,70.5 71.2,73.8 74.2,75.4 C77.1,76.9 77.1,78.3 77.7,78.9" fill="none" stroke="#5c5c5c" stroke-width="0.6" stroke-linejoin="round" stroke-linecap="round"/>
<path d="M74.2,78.9 C73.8,79.9 71.6,83.0 71.8,84.8 C72.0,86.7 74.7,89.1 75.3,90.0" fill="none" stroke="#5c5c5c" stroke-width="0.6" stroke-linejoin="round" stroke-linecap="round"/>
<path d="M77.7,78.9 C78.7,79.1 81.4,80.3 83.6,80.1 C85.7,79.9 88.7,78.5 90.7,77.7 C92.6,76.9 94.6,75.8 95.4,75.4" fill="none" stroke="#5c5c5c" stroke-width="0.6" stroke-linejoin="round" stroke-linecap="round"/>
<path d="M89.5,70.7 C89.8,70.5 90.6,69.4 91.2,69.5 C91.9,69.5 93.3,70.2 93.6,70.9 C93.9,71.6 93.5,73.1 93.0,73.6 C92.6,74.2 91.5,74.4 90.9,74.2 C90.3,74.0 89.7,73.0 89.5,72.4 C89.2,71.8 89.5,71.0 89.5,70.7" fill="none" stroke="#5c5c5c" stroke-width="0.6" stroke-linejoin="round" stroke-linecap="round"/>
<path d="M81.2,84.8 C82.0,84.4 84.4,82.5 85.9,82.5 C87.5,82.5 89.7,83.6 90.7,84.8 C91.6,86.1 91.6,89.1 91.8,90.0" fill="none" stroke="#5c5c5c" stroke-width="0.6" stroke-linejoin="round" stroke-linecap="round"/>
<path d="M95.4,78.9 C96.0,79.5 98.1,80.6 98.9,82.5 C99.7,84.3 99.9,88.7 100.1,90.0" fill="none" stroke="#5c5c5c" stroke-width="0.6" stroke-linejoin="round" stroke-linecap="round"/>
<polygon points="411.0,329.0 412.1,324.5 414.4,322.7 418.0,315.0 422.7,313.9 423.9,310.3 425.0,308.0 429.8,309.2 433.3,310.3 439.2,310.3 443.9,308.0 445.7,304.4 446.9,299.7 445.1,295.0 447.0,289.0 447.8,283.5 452.0,276.4 457.7,276.4 467.6,284.9 473.3,287.7 477.5,284.9 487.4,283.5 495.9,284.9 504.4,287.7 511.5,292.0 515.0,294.8 515.7,301.9 512.9,306.1 510.5,311.7 508.0,320.0 506.6,327.3 505.0,335.0 504.0,342.8 497.0,348.5 487.0,353.2 481.7,355.0 476.7,358.3 471.7,363.3 463.3,370.0 455.0,370.8 448.3,368.3 435.0,363.3 423.3,356.7 418.3,350.0 419.2,343.3 415.0,340.0 412.1,333.9" fill="#fff" stroke="#555" stroke-width="0.9" stroke-linejoin="round"/>
<path d="M452.2,299.7 C452.4,300.5 453.5,302.9 453.3,304.4 C453.2,306.0 452.6,307.8 451.0,309.2 C449.4,310.5 446.1,311.7 443.9,312.7 C441.8,313.7 439.6,314.3 438.0,315.0 C436.4,315.8 435.1,317.0 434.5,317.4" fill="none" stroke="#555" stroke-width="0.7" stroke-linejoin="round" stroke-linecap="round"/>
<path d="M418.0,315.0 L423.9,313.9 L432.1,318.6 L434.5,323.3 L433.3,330.4" fill="none" stroke="#555" stroke-width="0.7" stroke-linejoin="round" stroke-linecap="round"/>
<path d="M418.0,317.4 L433.3,322.7" fill="none" stroke="#5c5c5c" stroke-width="0.6" stroke-linejoin="round" stroke-linecap="round"/>
<path d="M417.4,319.8 L432.7,325.1" fill="none" stroke="#5c5c5c" stroke-width="0.6" stroke-linejoin="round" stroke-linecap="round"/>
<path d="M416.8,321.9 L432.1,326.8" fill="none" stroke="#5c5c5c" stroke-width="0.6" stroke-linejoin="round" stroke-linecap="round"/>
<path d="M414.4,322.7 C415.8,323.0 419.9,323.8 422.7,324.5 C425.4,325.2 429.6,326.4 430.9,326.8" fill="none" stroke="#555" stroke-width="0.7" stroke-linejoin="round" stroke-linecap="round"/>
<path d="M412.1,333.9 C412.9,334.5 414.8,336.5 416.8,337.5 C418.8,338.4 421.2,339.4 423.9,339.8 C426.5,340.2 431.2,339.8 432.7,339.8" fill="none" stroke="#555" stroke-width="0.7" stroke-linejoin="round" stroke-linecap="round"/>
<path d="M414.4,324.5 C414.2,325.3 413.2,327.6 413.3,329.2 C413.4,330.8 414.7,333.1 415.0,333.9" fill="none" stroke="#5c5c5c" stroke-width="0.6" stroke-linejoin="round" stroke-linecap="round"/>
<ellipse cx="0" cy="0" rx="4.30" ry="4.90" transform="translate(428.00 334.50) rotate(0.0)" fill="#fff" stroke="#444" stroke-width="0.8"/>
<ellipse cx="0" cy="0" rx="2.20" ry="2.60" transform="translate(428.30 334.70) rotate(0.0)" fill="#fff" stroke="#444" stroke-width="0.7"/>
<path d="M455.0,316.2 C453.9,317.6 450.3,321.5 448.6,324.5 C447.0,327.4 445.9,330.5 445.1,333.9 C444.3,337.3 444.1,343.2 443.9,345.0" fill="none" stroke="#555" stroke-width="0.7" stroke-linejoin="round" stroke-linecap="round"/>
<path d="M455.0,320.4 C454.5,320.6 453.2,320.5 452.2,322.1 C451.1,323.8 449.4,327.4 448.6,330.4 C447.8,333.3 447.6,337.4 447.5,339.8 C447.4,342.2 447.9,344.1 448.0,345.0" fill="none" stroke="#777" stroke-width="1.2" stroke-linejoin="round" stroke-linecap="round"/>
<circle cx="451" cy="297.4" r="1.3" fill="none" stroke="#555" stroke-width="0.6"/>
<circle cx="435.1" cy="312.1" r="1.4" fill="none" stroke="#555" stroke-width="0.6"/>
<path d="M452.1,277.8 C452.3,277.6 452.7,276.5 453.5,276.4 C454.3,276.3 456.3,276.3 457.0,277.1 C457.7,277.9 457.8,280.3 457.7,281.4 C457.6,282.4 457.0,283.3 456.3,283.5 C455.6,283.7 454.2,283.7 453.5,282.8 C452.8,281.8 452.3,278.7 452.1,277.8" fill="none" stroke="#555" stroke-width="0.7" stroke-linejoin="round" stroke-linecap="round"/>
<path d="M457.0,277.1 L469.8,283.5 L470.5,287.0 L467.6,288.4 L456.3,283.5" fill="none" stroke="#5c5c5c" stroke-width="0.6" stroke-linejoin="round" stroke-linecap="round"/>
<path d="M447.8,283.5 L450.7,282.8 L464.8,288.4 L465.5,292.7 L462.0,293.4 L447.8,288.4" fill="none" stroke="#5c5c5c" stroke-width="0.6" stroke-linejoin="round" stroke-linecap="round"/>
<path d="M480.4,289.1 C481.5,289.4 485.3,289.9 487.4,290.6 C489.6,291.3 491.2,293.4 493.1,293.4 C495.0,293.4 496.9,291.0 498.7,290.6 C500.6,290.1 502.5,289.9 504.4,290.6 C506.3,291.3 509.1,294.1 510.1,294.8" fill="none" stroke="#5c5c5c" stroke-width="0.6" stroke-linejoin="round" stroke-linecap="round"/>
<path d="M477.5,284.9 C478.0,285.6 480.1,287.7 480.4,289.1 C480.6,290.6 478.7,292.0 478.9,293.4 C479.2,294.8 479.9,296.5 481.8,297.6 C483.7,298.8 487.4,299.5 490.3,300.5 C493.1,301.4 495.9,302.1 498.7,303.3 C501.6,304.5 505.8,306.8 507.2,307.5" fill="none" stroke="#5c5c5c" stroke-width="0.6" stroke-linejoin="round" stroke-linecap="round"/>
<path d="M491.7,286.3 C491.9,286.8 492.4,288.8 493.1,289.1 C493.8,289.5 495.2,288.9 495.9,288.4 C496.6,288.0 497.1,286.7 497.3,286.3" fill="none" stroke="#444" stroke-width="0.8" stroke-linejoin="round" stroke-linecap="round"/>
<path d="M487.4,293.4 C488.1,293.9 490.3,296.0 491.7,296.2 C493.1,296.5 494.7,294.6 495.9,294.8 C497.1,295.0 497.8,297.4 498.7,297.6 C499.7,297.9 501.1,296.5 501.6,296.2" fill="none" stroke="#444" stroke-width="0.8" stroke-linejoin="round" stroke-linecap="round"/>
<path d="M507.2,296.2 C507.6,295.9 508.4,294.3 509.4,294.1 C510.3,293.9 511.9,294.1 512.9,294.8 C513.8,295.5 514.8,296.9 515.0,298.3 C515.2,299.8 514.9,302.2 514.3,303.3 C513.7,304.3 512.4,304.7 511.5,304.7 C510.5,304.7 509.4,304.1 508.6,303.3 C507.9,302.5 507.5,300.9 507.2,299.8 C507.0,298.6 507.2,296.8 507.2,296.2" fill="none" stroke="#555" stroke-width="0.7" stroke-linejoin="round" stroke-linecap="round"/>
<path d="M509.8,298.3 C510.0,298.1 510.7,296.9 511.2,296.9 C511.7,296.9 512.7,297.6 512.9,298.3 C513.1,299.0 513.0,300.6 512.6,301.2 C512.3,301.8 511.2,302.0 510.8,301.9 C510.3,301.7 509.9,300.8 509.8,300.2 C509.6,299.6 509.8,298.6 509.8,298.3" fill="none" stroke="#5c5c5c" stroke-width="0.6" stroke-linejoin="round" stroke-linecap="round"/>
<path d="M476.1,311.8 C476.4,311.2 476.6,309.1 477.5,308.2 C478.5,307.4 480.2,306.7 481.8,306.8 C483.3,306.9 485.7,307.8 486.7,308.9 C487.8,310.1 488.3,312.4 488.1,313.9 C488.0,315.4 487.2,317.3 486.0,318.1 C484.8,319.0 482.5,319.4 481.1,319.1 C479.6,318.9 478.1,318.0 477.2,316.7 C476.4,315.5 476.3,312.6 476.1,311.8" fill="none" stroke="#555" stroke-width="0.7" stroke-linejoin="round" stroke-linecap="round"/>
<path d="M498.7,308.9 C499.2,309.2 500.4,308.9 501.6,310.4 C502.8,311.8 505.3,315.1 505.8,317.4 C506.3,319.8 505.1,322.6 504.4,324.5 C503.7,326.4 502.0,328.0 501.6,328.7" fill="none" stroke="#555" stroke-width="0.7" stroke-linejoin="round" stroke-linecap="round"/>
<path d="M495.9,311.8 C496.4,312.2 497.9,313.2 498.7,314.6 C499.6,316.0 500.8,318.4 500.9,320.3 C501.0,322.1 499.7,325.0 499.5,325.9" fill="none" stroke="#5c5c5c" stroke-width="0.6" stroke-linejoin="round" stroke-linecap="round"/>
<path d="M450.7,317.4 C451.1,317.2 452.1,316.0 453.5,316.0 C454.9,316.0 457.8,316.3 459.1,317.4 C460.4,318.6 461.0,321.0 461.3,323.1 C461.5,325.2 461.4,328.9 460.6,330.2 C459.7,331.5 457.7,331.1 456.3,330.9 C454.9,330.6 453.0,330.0 452.1,328.7 C451.1,327.5 450.9,325.0 450.7,323.1 C450.4,321.2 450.7,318.4 450.7,317.4" fill="none" stroke="#5c5c5c" stroke-width="0.6" stroke-linejoin="round" stroke-linecap="round"/>
<path d="M452.8,320.3 C453.1,321.2 454.0,324.7 454.9,325.9 C455.8,327.1 457.8,327.1 458.4,327.3" fill="none" stroke="#5c5c5c" stroke-width="0.5" stroke-linejoin="round" stroke-linecap="round"/>
<path d="M476.1,321.7 C476.6,321.4 477.8,320.3 478.9,320.3 C480.1,320.3 482.2,320.5 483.2,321.7 C484.1,322.9 484.7,325.7 484.6,327.3 C484.5,329.0 483.5,331.0 482.5,331.6 C481.4,332.2 479.3,331.7 478.2,330.9 C477.2,330.0 476.8,328.2 476.4,326.6 C476.0,325.1 476.2,322.5 476.1,321.7" fill="none" stroke="#5c5c5c" stroke-width="0.6" stroke-linejoin="round" stroke-linecap="round"/>
<path d="M462.0,299.0 C462.7,299.3 464.8,299.8 466.2,300.5 C467.6,301.2 469.3,302.1 470.5,303.3 C471.6,304.5 472.8,306.8 473.3,307.5" fill="none" stroke="#5c5c5c" stroke-width="0.6" stroke-linejoin="round" stroke-linecap="round"/>
<path d="M445.0,299.0 C446.4,298.3 450.7,294.8 453.5,294.8 C456.3,294.8 460.6,298.3 462.0,299.0" fill="none" stroke="#5c5c5c" stroke-width="0.6" stroke-linejoin="round" stroke-linecap="round"/>
<path d="M445.0,307.5 C445.9,307.3 448.5,305.9 450.7,306.1 C452.8,306.4 455.6,307.8 457.7,308.9 C459.9,310.1 462.0,311.5 463.4,313.2 C464.8,314.8 465.7,317.9 466.2,318.8" fill="none" stroke="#5c5c5c" stroke-width="0.6" stroke-linejoin="round" stroke-linecap="round"/>
<path d="M467.6,310.4 C468.3,311.1 470.9,312.7 471.9,314.6 C472.8,316.5 473.3,319.3 473.3,321.7 C473.3,324.0 472.6,326.5 471.9,328.7 C471.2,331.0 469.5,333.9 469.0,335.0" fill="none" stroke="#5c5c5c" stroke-width="0.6" stroke-linejoin="round" stroke-linecap="round"/>
<path d="M490.3,303.3 C490.5,304.5 491.7,308.0 491.7,310.4 C491.7,312.7 490.3,315.1 490.3,317.4 C490.3,319.8 491.0,322.1 491.7,324.5 C492.4,326.9 494.0,330.4 494.5,331.6" fill="none" stroke="#5c5c5c" stroke-width="0.6" stroke-linejoin="round" stroke-linecap="round"/>
<path d="M462.0,317.4 C462.9,317.9 466.0,319.3 467.6,320.3 C469.3,321.2 471.2,322.6 471.9,323.1" fill="none" stroke="#5c5c5c" stroke-width="0.6" stroke-linejoin="round" stroke-linecap="round"/>
<path d="M463.4,324.5 C464.3,324.7 467.4,325.2 469.0,325.9 C470.7,326.6 472.6,328.3 473.3,328.7" fill="none" stroke="#5c5c5c" stroke-width="0.6" stroke-linejoin="round" stroke-linecap="round"/>
<circle cx="470.5" cy="304" r="1.2" fill="none" stroke="#555" stroke-width="0.6"/>
<path d="M420.0,343.3 C421.9,343.9 427.8,345.3 431.7,346.7 C435.6,348.1 439.7,350.3 443.3,351.7 C446.9,353.1 449.7,353.9 453.3,355.0 C456.9,356.1 461.1,357.8 465.0,358.3 C468.9,358.9 474.7,358.3 476.7,358.3" fill="none" stroke="#5c5c5c" stroke-width="0.6" stroke-linejoin="round" stroke-linecap="round"/>
<path d="M420.0,346.7 C421.1,346.4 425.0,344.4 426.7,345.0 C428.3,345.6 430.0,348.2 430.0,350.0 C430.0,351.8 427.9,355.0 426.7,355.8 C425.4,356.7 423.2,355.1 422.5,355.0" fill="none" stroke="#5c5c5c" stroke-width="0.6" stroke-linejoin="round" stroke-linecap="round"/>
<path d="M430.0,350.0 C431.4,350.4 436.4,351.1 438.3,352.5 C440.3,353.9 441.5,356.7 441.7,358.3 C441.8,360.0 439.6,361.8 439.2,362.5" fill="none" stroke="#5c5c5c" stroke-width="0.6" stroke-linejoin="round" stroke-linecap="round"/>
<path d="M441.7,358.3 C443.1,358.6 448.1,358.9 450.0,360.0 C451.9,361.1 453.1,363.6 453.3,365.0 C453.6,366.4 451.9,368.1 451.7,368.7" fill="none" stroke="#5c5c5c" stroke-width="0.6" stroke-linejoin="round" stroke-linecap="round"/>
<path d="M423.3,356.7 C425.3,356.9 430.8,357.2 435.0,358.3 C439.2,359.4 444.2,361.9 448.3,363.3 C452.5,364.7 458.1,366.1 460.0,366.7" fill="none" stroke="#5c5c5c" stroke-width="0.6" stroke-linejoin="round" stroke-linecap="round"/>
<path d="M426.7,360.0 C428.6,360.3 434.2,360.6 438.3,361.7 C442.5,362.8 449.4,365.8 451.7,366.7" fill="none" stroke="#5c5c5c" stroke-width="0.5" stroke-linejoin="round" stroke-linecap="round"/>
<path d="M443.3,343.3 C444.0,343.1 446.0,341.5 447.5,341.7 C449.0,341.8 451.5,342.8 452.5,344.2 C453.5,345.6 453.8,348.5 453.3,350.0 C452.9,351.5 451.4,352.9 450.0,353.3 C448.6,353.8 446.1,353.3 445.0,352.5 C443.9,351.7 443.6,349.9 443.3,348.3 C443.1,346.8 443.3,344.2 443.3,343.3" fill="none" stroke="#555" stroke-width="0.7" stroke-linejoin="round" stroke-linecap="round"/>
<path d="M445.8,345.8 C446.2,345.6 447.5,344.5 448.3,344.7 C449.2,344.8 450.6,345.7 450.8,346.7 C451.1,347.6 450.6,349.8 450.0,350.3 C449.4,350.9 447.7,350.8 447.0,350.0 C446.3,349.2 446.0,346.5 445.8,345.8" fill="none" stroke="#5c5c5c" stroke-width="0.6" stroke-linejoin="round" stroke-linecap="round"/>
<path d="M455.0,350.0 C455.3,349.7 456.2,348.3 457.0,348.3 C457.8,348.3 459.2,349.1 459.7,350.0 C460.1,350.9 460.1,352.8 459.7,353.7 C459.2,354.5 457.8,355.1 457.0,355.0 C456.2,354.9 455.3,354.2 455.0,353.3 C454.7,352.5 455.0,350.6 455.0,350.0" fill="none" stroke="#5c5c5c" stroke-width="0.6" stroke-linejoin="round" stroke-linecap="round"/>
<path d="M472.5,351.7 C472.9,351.4 474.0,350.0 475.0,350.0 C476.0,350.0 477.8,350.7 478.3,351.7 C478.9,352.6 478.8,354.9 478.3,355.8 C477.8,356.7 476.2,357.1 475.3,357.0 C474.4,356.9 473.5,356.2 473.0,355.3 C472.5,354.4 472.6,352.3 472.5,351.7" fill="none" stroke="#5c5c5c" stroke-width="0.6" stroke-linejoin="round" stroke-linecap="round"/>
<path d="M450.0,325.0 C449.9,325.8 448.9,328.5 449.2,330.0 C449.4,331.5 450.4,333.3 451.7,334.2 C452.9,335.0 455.3,335.4 456.7,335.0 C458.1,334.6 459.5,333.1 460.0,331.7 C460.5,330.3 459.7,327.5 459.7,326.7" fill="none" stroke="#444" stroke-width="0.8" stroke-linejoin="round" stroke-linecap="round"/>
<path d="M450.8,325.8 L451.3,334.2" fill="none" stroke="#555" stroke-width="0.6" stroke-linejoin="round" stroke-linecap="round"/>
<path d="M452.7,325.8 L453.2,334.2" fill="none" stroke="#555" stroke-width="0.6" stroke-linejoin="round" stroke-linecap="round"/>
<path d="M454.5,325.8 L455.0,334.2" fill="none" stroke="#555" stroke-width="0.6" stroke-linejoin="round" stroke-linecap="round"/>
<path d="M456.3,325.8 L456.8,334.2" fill="none" stroke="#555" stroke-width="0.6" stroke-linejoin="round" stroke-linecap="round"/>
<path d="M458.2,325.8 L458.7,334.2" fill="none" stroke="#555" stroke-width="0.6" stroke-linejoin="round" stroke-linecap="round"/>
<path d="M480.0,325.0 C480.6,326.1 482.5,329.2 483.3,331.7 C484.2,334.2 485.3,337.8 485.0,340.0 C484.7,342.2 483.1,344.7 481.7,345.0 C480.3,345.3 477.5,342.2 476.7,341.7" fill="none" stroke="#5c5c5c" stroke-width="0.6" stroke-linejoin="round" stroke-linecap="round"/>
<path d="M488.3,328.3 C489.2,329.4 491.9,333.3 493.3,335.0 C494.7,336.7 495.0,337.5 496.7,338.3 C498.3,339.2 501.7,339.4 503.3,340.0 C505.0,340.6 506.1,341.4 506.7,341.7" fill="none" stroke="#5c5c5c" stroke-width="0.6" stroke-linejoin="round" stroke-linecap="round"/>
<path d="M497.5,338.3 C498.1,338.2 499.7,337.2 500.8,337.5 C501.9,337.8 503.6,338.9 504.2,340.0 C504.7,341.1 504.7,343.2 504.2,344.2 C503.6,345.1 501.9,345.8 500.8,345.8 C499.8,345.8 498.6,345.4 498.0,344.2 C497.4,342.9 497.6,339.3 497.5,338.3" fill="none" stroke="#555" stroke-width="0.7" stroke-linejoin="round" stroke-linecap="round"/>
<path d="M499.7,340.3 C500.0,340.2 501.2,339.4 501.7,339.7 C502.2,339.9 502.7,341.0 502.7,341.7 C502.7,342.3 502.1,343.4 501.7,343.7 C501.2,343.9 500.3,343.6 500.0,343.0 C499.7,342.4 499.7,340.8 499.7,340.3" fill="none" stroke="#5c5c5c" stroke-width="0.6" stroke-linejoin="round" stroke-linecap="round"/>
<path d="M443.3,325.0 C443.3,326.7 443.5,331.7 443.3,335.0 C443.2,338.3 442.9,342.5 442.5,345.0 C442.1,347.5 441.1,349.2 440.8,350.0" fill="none" stroke="#555" stroke-width="0.7" stroke-linejoin="round" stroke-linecap="round"/>
<path d="M465.0,330.0 C465.8,330.8 468.1,333.1 470.0,335.0 C471.9,336.9 474.7,338.6 476.7,341.7 C478.6,344.7 480.8,351.4 481.7,353.3" fill="none" stroke="#5c5c5c" stroke-width="0.6" stroke-linejoin="round" stroke-linecap="round"/>
<path d="M460.0,340.0 C461.1,340.3 464.4,340.3 466.7,341.7 C468.9,343.1 471.7,346.9 473.3,348.3 C475.0,349.7 476.1,349.7 476.7,350.0" fill="none" stroke="#5c5c5c" stroke-width="0.6" stroke-linejoin="round" stroke-linecap="round"/>
<path d="M485.0,345.0 C485.6,344.7 486.9,343.1 488.3,343.3 C489.7,343.6 492.2,345.6 493.3,346.7 C494.4,347.8 494.7,349.4 495.0,350.0" fill="none" stroke="#5c5c5c" stroke-width="0.6" stroke-linejoin="round" stroke-linecap="round"/>
<path d="M456.5,300.0 C455.7,301.6 453.4,306.3 451.8,309.4 C450.2,312.6 448.4,315.5 447.1,318.9 C445.8,322.2 444.7,325.9 444.1,329.5 C443.5,333.0 443.4,336.7 443.5,340.1 C443.6,343.5 444.5,348.3 444.7,350.0" fill="none" stroke="#555" stroke-width="0.8" stroke-linejoin="round" stroke-linecap="round"/>
<path d="M460.0,311.8 C458.9,313.4 454.9,317.3 453.0,321.2 C451.0,325.2 448.9,331.1 448.3,335.4 C447.6,339.7 448.7,345.2 448.8,347.2" fill="none" stroke="#5c5c5c" stroke-width="0.6" stroke-linejoin="round" stroke-linecap="round"/>
<path d="M451.2,327.1 C451.4,326.5 451.5,324.4 452.4,323.6 C453.3,322.8 455.2,322.2 456.5,322.4 C457.8,322.6 459.3,323.4 460.0,324.8 C460.8,326.1 461.4,328.9 461.2,330.7 C461.0,332.4 460.0,334.5 458.9,335.4 C457.7,336.3 455.4,336.4 454.2,336.0 C452.9,335.6 451.7,334.5 451.2,333.0 C450.7,331.5 451.2,328.1 451.2,327.1" fill="none" stroke="#444" stroke-width="0.8" stroke-linejoin="round" stroke-linecap="round"/>
<path d="M453.0,323.6 L452.4,334.8" fill="none" stroke="#555" stroke-width="0.6" stroke-linejoin="round" stroke-linecap="round"/>
<path d="M454.9,323.8 L454.3,335.0" fill="none" stroke="#555" stroke-width="0.6" stroke-linejoin="round" stroke-linecap="round"/>
<path d="M456.7,324.1 L456.2,335.3" fill="none" stroke="#555" stroke-width="0.6" stroke-linejoin="round" stroke-linecap="round"/>
<path d="M458.6,324.3 L458.0,335.5" fill="none" stroke="#555" stroke-width="0.6" stroke-linejoin="round" stroke-linecap="round"/>
<path d="M475.4,309.4 C475.6,308.6 475.6,305.9 476.6,304.7 C477.5,303.5 479.7,302.4 481.3,302.4 C482.8,302.4 485.0,303.3 486.0,304.7 C487.0,306.1 487.2,308.6 487.2,310.6 C487.2,312.6 487.0,315.2 486.0,316.5 C485.0,317.8 482.8,318.3 481.3,318.3 C479.7,318.3 477.5,318.0 476.6,316.5 C475.6,315.0 475.6,310.6 475.4,309.4" fill="none" stroke="#555" stroke-width="0.7" stroke-linejoin="round" stroke-linecap="round"/>
<path d="M476.6,323.6 C477.1,323.2 479.1,321.0 480.1,321.2 C481.1,321.4 482.3,323.5 482.5,324.8 C482.6,326.0 482.1,328.2 481.3,328.9 C480.5,329.6 478.5,329.8 477.7,328.9 C476.9,328.0 476.8,324.5 476.6,323.6" fill="none" stroke="#555" stroke-width="0.7" stroke-linejoin="round" stroke-linecap="round"/>
<path d="M484.8,311.8 L495.4,313.0 L496.6,347.2 L486.0,346.0 L484.8,311.8" fill="none" stroke="#5c5c5c" stroke-width="0.6" stroke-linejoin="round" stroke-linecap="round"/>
<path d="M487.2,314.2 L487.8,346.0" fill="none" stroke="#5c5c5c" stroke-width="0.5" stroke-linejoin="round" stroke-linecap="round"/>
<path d="M489.3,314.2 L489.9,346.0" fill="none" stroke="#5c5c5c" stroke-width="0.5" stroke-linejoin="round" stroke-linecap="round"/>
<path d="M491.4,314.2 L492.0,346.0" fill="none" stroke="#5c5c5c" stroke-width="0.5" stroke-linejoin="round" stroke-linecap="round"/>
<path d="M493.5,314.2 L494.1,346.0" fill="none" stroke="#5c5c5c" stroke-width="0.5" stroke-linejoin="round" stroke-linecap="round"/>
<path d="M463.6,315.3 C464.8,314.9 468.9,312.8 470.7,313.0 C472.4,313.2 473.8,314.7 474.2,316.5 C474.6,318.3 473.6,321.6 473.0,323.6 C472.4,325.6 471.8,327.5 470.7,328.3 C469.5,329.1 467.1,329.1 465.9,328.3 C464.8,327.5 464.0,325.7 463.6,323.6 C463.2,321.4 463.6,316.7 463.6,315.3" fill="none" stroke="#555" stroke-width="0.7" stroke-linejoin="round" stroke-linecap="round"/>
<path d="M464.8,320.0 L473.0,320.0" fill="none" stroke="#444" stroke-width="0.8" stroke-linejoin="round" stroke-linecap="round"/>
<path d="M465.4,323.6 L472.4,324.2" fill="none" stroke="#444" stroke-width="0.8" stroke-linejoin="round" stroke-linecap="round"/>
<path d="M461.2,335.4 C462.8,336.0 467.3,337.3 470.7,338.9 C474.0,340.5 478.1,343.4 481.3,344.8 C484.4,346.2 488.2,346.8 489.5,347.2" fill="none" stroke="#5c5c5c" stroke-width="0.6" stroke-linejoin="round" stroke-linecap="round"/>
<path d="M463.6,340.1 C465.2,340.7 470.5,342.3 473.0,343.6 C475.6,345.0 477.9,347.6 478.9,348.3" fill="none" stroke="#5c5c5c" stroke-width="0.6" stroke-linejoin="round" stroke-linecap="round"/>
<path d="M469.5,300.0 C469.9,300.8 470.9,303.5 471.8,304.7 C472.8,305.9 474.8,306.7 475.4,307.1" fill="none" stroke="#5c5c5c" stroke-width="0.6" stroke-linejoin="round" stroke-linecap="round"/>
<path d="M461.2,329.5 C462.2,330.1 464.8,332.4 467.1,333.0 C469.5,333.6 472.8,333.4 475.4,333.0 C477.9,332.6 481.3,331.1 482.5,330.7" fill="none" stroke="#5c5c5c" stroke-width="0.6" stroke-linejoin="round" stroke-linecap="round"/>
<path d="M453.4,281.4 L468.9,290.2 M456.6,275.8 L472.1,284.6" stroke="#555" stroke-width="0.7" fill="none"/>
<ellipse cx="0" cy="0" rx="1.90" ry="3.20" transform="translate(455.00 278.60) rotate(29.6)" fill="#fff" stroke="#555" stroke-width="0.7"/>
<path d="M461.9,286.2 L465.1,280.7" stroke="#888" stroke-width="0.5" fill="none"/>
<path d="M449.0,288.0 L465.0,296.8 M452.0,282.4 L468.0,291.2" stroke="#555" stroke-width="0.7" fill="none"/>
<ellipse cx="0" cy="0" rx="1.90" ry="3.20" transform="translate(450.50 285.20) rotate(28.8)" fill="#fff" stroke="#555" stroke-width="0.7"/>
<path d="M457.8,292.8 L460.8,287.2" stroke="#888" stroke-width="0.5" fill="none"/>
<path d="M476.0,289.0 C478.3,288.8 485.0,287.4 490.0,288.0 C495.0,288.6 503.3,291.8 506.0,292.5" fill="none" stroke="#777" stroke-width="0.55" stroke-linejoin="round" stroke-linecap="round"/>
<path d="M477.5,292.2 C479.8,292.0 486.5,290.6 491.5,291.2 C496.5,291.8 504.8,294.9 507.5,295.7" fill="none" stroke="#777" stroke-width="0.55" stroke-linejoin="round" stroke-linecap="round"/>
<path d="M479.0,295.4 C481.3,295.2 488.0,293.8 493.0,294.4 C498.0,295.0 506.3,298.1 509.0,298.9" fill="none" stroke="#777" stroke-width="0.55" stroke-linejoin="round" stroke-linecap="round"/>
<path d="M458.0,294.0 C459.3,294.7 463.7,296.7 466.0,298.0 C468.3,299.3 470.3,300.7 472.0,302.0 C473.7,303.3 475.3,305.3 476.0,306.0" fill="none" stroke="#5c5c5c" stroke-width="0.6" stroke-linejoin="round" stroke-linecap="round"/>
<ellipse cx="0" cy="0" rx="3.13" ry="4.60" transform="translate(12.63 50.82) rotate(27.0)" fill="#fff" stroke="#333" stroke-width="0.8"/>
<polygon points="10.54,54.92 14.01,56.90 18.19,48.70 14.71,46.72" fill="#fff" stroke="none"/>
<line x1="10.54" y1="54.92" x2="14.01" y2="56.90" stroke="#333" stroke-width="0.8"/>
<line x1="18.19" y1="48.70" x2="14.71" y2="46.72" stroke="#333" stroke-width="0.8"/>
<ellipse cx="0" cy="0" rx="2.24" ry="3.30" transform="translate(16.10 52.80) rotate(27.0)" fill="#fff" stroke="#1a1a1a" stroke-width="2.6"/>
<ellipse cx="0" cy="0" rx="1.09" ry="1.61" transform="translate(16.10 52.80) rotate(27.0)" fill="#fff" stroke="#1a1a1a" stroke-width="1.0"/>
<ellipse cx="0" cy="0" rx="3.31" ry="4.60" transform="translate(30.83 42.32) rotate(27.0)" fill="#fff" stroke="#333" stroke-width="0.8"/>
<polygon points="28.74,46.42 32.21,48.40 36.39,40.20 32.91,38.22" fill="#fff" stroke="none"/>
<line x1="28.74" y1="46.42" x2="32.21" y2="48.40" stroke="#333" stroke-width="0.8"/>
<line x1="36.39" y1="40.20" x2="32.91" y2="38.22" stroke="#333" stroke-width="0.8"/>
<ellipse cx="0" cy="0" rx="2.38" ry="3.30" transform="translate(34.30 44.30) rotate(27.0)" fill="#fff" stroke="#1a1a1a" stroke-width="2.6"/>
<ellipse cx="0" cy="0" rx="1.16" ry="1.61" transform="translate(34.30 44.30) rotate(27.0)" fill="#fff" stroke="#1a1a1a" stroke-width="1.0"/>
<ellipse cx="0" cy="0" rx="3.84" ry="6.00" transform="translate(114.93 91.20) rotate(27.0)" fill="#fff" stroke="#555" stroke-width="0.7"/>
<ellipse cx="0" cy="0" rx="3.84" ry="6.00" transform="translate(115.80 91.70) rotate(27.0)" fill="#fff" stroke="#2a2a2a" stroke-width="0.9"/>
<ellipse cx="0" cy="0" rx="2.30" ry="3.60" transform="translate(115.80 91.70) rotate(27.0)" fill="#fff" stroke="#2a2a2a" stroke-width="0.81"/>
<ellipse cx="0" cy="0" rx="8.52" ry="14.95" transform="translate(128.49 98.93) rotate(27.0)" fill="#4a4a4a" stroke="#2a2a2a" stroke-width="1.50" stroke-dasharray="1.20 1.20"/>
<ellipse cx="0" cy="0" rx="8.52" ry="14.95" transform="translate(129.79 99.67) rotate(27.0)" fill="#4a4a4a" stroke="#2a2a2a" stroke-width="1.50" stroke-dasharray="1.20 1.20"/>
<ellipse cx="0" cy="0" rx="8.52" ry="14.95" transform="translate(131.09 100.41) rotate(27.0)" fill="#4a4a4a" stroke="#2a2a2a" stroke-width="1.50" stroke-dasharray="1.20 1.20"/>
<ellipse cx="0" cy="0" rx="8.52" ry="14.95" transform="translate(132.40 101.16) rotate(27.0)" fill="#4a4a4a" stroke="#2a2a2a" stroke-width="1.50" stroke-dasharray="1.20 1.20"/>
<ellipse cx="0" cy="0" rx="8.52" ry="14.95" transform="translate(133.70 101.90) rotate(27.0)" fill="#fff" stroke="#2a2a2a" stroke-width="1.50" stroke-dasharray="1.20 1.20"/>
<ellipse cx="0" cy="0" rx="8.09" ry="14.20" transform="translate(133.70 101.90) rotate(27.0)" fill="#fff" stroke="#333" stroke-width="0.8"/>
<ellipse cx="0" cy="0" rx="6.80" ry="11.93" transform="translate(133.70 101.90) rotate(27.0)" fill="none" stroke="#555" stroke-width="0.7"/>
<ellipse cx="0" cy="0" rx="5.37" ry="9.42" transform="translate(133.50 101.90) rotate(27.0)" fill="#c8c8c8" stroke="#444" stroke-width="0.7"/>
<ellipse cx="0" cy="0" rx="4.47" ry="7.85" transform="translate(133.50 101.90) rotate(27.0)" fill="none" stroke="#222" stroke-width="2.20" stroke-dasharray="2.83 2.20"/>
<ellipse cx="0" cy="0" rx="2.68" ry="4.71" transform="translate(133.70 102.10) rotate(27.0)" fill="#fff" stroke="#222" stroke-width="1.0"/>
<ellipse cx="0" cy="0" rx="1.34" ry="2.35" transform="translate(133.90 102.20) rotate(27.0)" fill="#fff" stroke="#444" stroke-width="0.7"/>
<ellipse cx="0" cy="0" rx="2.66" ry="3.80" transform="translate(143.86 107.87) rotate(27.0)" fill="#fff" stroke="#333" stroke-width="0.8"/>
<polygon points="142.13,111.25 145.17,112.99 148.63,106.21 145.58,104.48" fill="#fff" stroke="none"/>
<line x1="142.13" y1="111.25" x2="145.17" y2="112.99" stroke="#333" stroke-width="0.8"/>
<line x1="148.63" y1="106.21" x2="145.58" y2="104.48" stroke="#333" stroke-width="0.8"/>
<ellipse cx="0" cy="0" rx="2.03" ry="2.90" transform="translate(146.90 109.60) rotate(27.0)" fill="#fff" stroke="#1a1a1a" stroke-width="1.8"/>
<ellipse cx="0" cy="0" rx="1.20" ry="1.71" transform="translate(146.90 109.60) rotate(27.0)" fill="#fff" stroke="#1a1a1a" stroke-width="1.0"/>
<ellipse cx="0" cy="0" rx="3.85" ry="5.50" transform="translate(155.33 114.70) rotate(27.0)" fill="#fff" stroke="#555" stroke-width="0.7"/>
<ellipse cx="0" cy="0" rx="3.85" ry="5.50" transform="translate(156.20 115.20) rotate(27.0)" fill="#fff" stroke="#2a2a2a" stroke-width="0.9"/>
<ellipse cx="0" cy="0" rx="2.31" ry="3.30" transform="translate(156.20 115.20) rotate(27.0)" fill="#fff" stroke="#2a2a2a" stroke-width="0.81"/>
<ellipse cx="0" cy="0" rx="6.70" ry="10.15" transform="translate(166.66 120.22) rotate(27.0)" fill="#4a4a4a" stroke="#2a2a2a" stroke-width="1.50" stroke-dasharray="1.20 1.20"/>
<ellipse cx="0" cy="0" rx="6.70" ry="10.15" transform="translate(167.74 120.84) rotate(27.0)" fill="#4a4a4a" stroke="#2a2a2a" stroke-width="1.50" stroke-dasharray="1.20 1.20"/>
<ellipse cx="0" cy="0" rx="6.70" ry="10.15" transform="translate(168.83 121.46) rotate(27.0)" fill="#4a4a4a" stroke="#2a2a2a" stroke-width="1.50" stroke-dasharray="1.20 1.20"/>
<ellipse cx="0" cy="0" rx="6.70" ry="10.15" transform="translate(169.91 122.08) rotate(27.0)" fill="#4a4a4a" stroke="#2a2a2a" stroke-width="1.50" stroke-dasharray="1.20 1.20"/>
<ellipse cx="0" cy="0" rx="6.70" ry="10.15" transform="translate(171.00 122.70) rotate(27.0)" fill="#fff" stroke="#2a2a2a" stroke-width="1.50" stroke-dasharray="1.20 1.20"/>
<ellipse cx="0" cy="0" rx="6.20" ry="9.40" transform="translate(171.00 122.70) rotate(27.0)" fill="#fff" stroke="#333" stroke-width="0.8"/>
<ellipse cx="0" cy="0" rx="5.47" ry="8.28" transform="translate(171.00 122.70) rotate(27.0)" fill="none" stroke="#555" stroke-width="0.7"/>
<ellipse cx="0" cy="0" rx="4.32" ry="6.54" transform="translate(170.80 122.70) rotate(27.0)" fill="#c8c8c8" stroke="#444" stroke-width="0.7"/>
<ellipse cx="0" cy="0" rx="3.60" ry="5.45" transform="translate(170.80 122.70) rotate(27.0)" fill="none" stroke="#222" stroke-width="1.53" stroke-dasharray="1.96 1.53"/>
<ellipse cx="0" cy="0" rx="2.16" ry="3.27" transform="translate(171.00 122.90) rotate(27.0)" fill="#fff" stroke="#222" stroke-width="1.0"/>
<ellipse cx="0" cy="0" rx="1.08" ry="1.64" transform="translate(171.20 123.00) rotate(27.0)" fill="#fff" stroke="#444" stroke-width="0.7"/>
<ellipse cx="0" cy="0" rx="2.24" ry="3.40" transform="translate(172.26 123.47) rotate(27.0)" fill="#fff" stroke="#333" stroke-width="0.8"/>
<polygon points="170.72,126.50 173.76,128.23 176.84,122.17 173.80,120.44" fill="#fff" stroke="none"/>
<line x1="170.72" y1="126.50" x2="173.76" y2="128.23" stroke="#333" stroke-width="0.8"/>
<line x1="176.84" y1="122.17" x2="173.80" y2="120.44" stroke="#333" stroke-width="0.8"/>
<ellipse cx="0" cy="0" rx="1.98" ry="3.00" transform="translate(175.30 125.20) rotate(27.0)" fill="#fff" stroke="#444" stroke-width="0.8"/>
<ellipse cx="0" cy="0" rx="1.23" ry="1.87" transform="translate(175.30 125.20) rotate(27.0)" fill="#fff" stroke="#444" stroke-width="1.0"/>
<path d="M184.78,133.16 L184.25,133.70 L183.67,134.13 L183.07,134.44 L182.46,134.61 L181.88,134.65 L181.33,134.55 L180.84,134.31 L180.43,133.94 L180.10,133.46 L179.88,132.88 L179.76,132.22 L179.76,131.50 L179.86,130.76 L180.08,130.00 L180.39,129.27 L180.80,128.59 L181.28,127.97 L181.83,127.44 L182.41,127.03 L183.01,126.73 L183.61,126.57 L184.19,126.55 L184.73,126.67 L185.21,126.93 L185.62,127.31 L185.93,127.81 L186.14,128.40 L186.25,129.07 L186.24,129.79 L186.12,130.54" fill="none" stroke="#2a2a2a" stroke-width="1.5" stroke-linecap="round"/>
<path d="M193.37,137.89 L192.81,138.44 L192.20,138.87 L191.56,139.17 L190.92,139.34 L190.30,139.37 L189.71,139.25 L189.18,138.99 L188.73,138.60 L188.37,138.09 L188.11,137.49 L187.97,136.80 L187.95,136.06 L188.04,135.29 L188.26,134.51 L188.58,133.76 L189.00,133.06 L189.50,132.43 L190.06,131.90 L190.68,131.49 L191.32,131.20 L191.96,131.05 L192.58,131.04 L193.16,131.18 L193.68,131.45 L194.12,131.86 L194.47,132.38 L194.71,133.00 L194.84,133.69 L194.85,134.44 L194.74,135.21" fill="none" stroke="#2a2a2a" stroke-width="1.5" stroke-linecap="round"/>
<line x1="180.6" y1="144.2" x2="212.8" y2="162.6" stroke="#2a2a2a" stroke-width="4.5" stroke-linecap="round"/>
<line x1="180.6" y1="144.2" x2="212.8" y2="162.6" stroke="#fff" stroke-width="2.5" stroke-linecap="round"/>
<ellipse cx="0" cy="0" rx="1.35" ry="2.25" transform="translate(212.80 162.60) rotate(27.0)" fill="#fff" stroke="#2a2a2a" stroke-width="0.7"/>
<line x1="189.6" y1="167.8" x2="215.4" y2="181.8" stroke="#2a2a2a" stroke-width="4.5" stroke-linecap="round"/>
<line x1="189.6" y1="167.8" x2="215.4" y2="181.8" stroke="#fff" stroke-width="2.5" stroke-linecap="round"/>
<ellipse cx="0" cy="0" rx="1.35" ry="2.25" transform="translate(215.40 181.80) rotate(27.0)" fill="#fff" stroke="#2a2a2a" stroke-width="0.7"/>
<path d="M229.5,167.5 L237.6,165.5 L238.6,175 L231,178 Z" transform="translate(0 0)" fill="#fff" stroke="#222" stroke-width="1.0" stroke-linecap="round" stroke-linejoin="round"/>
<path d="M231.8,168 L233.2,176 M235.3,167 L236,175" transform="translate(0 0)" fill="none" stroke="#2a2a2a" stroke-width="1.5" stroke-linecap="round" stroke-linejoin="round"/>
<path d="M239.7,151.6 C240.4,154.5 239.6,158.5 237.3,162.3" transform="translate(0 0)" fill="none" stroke="#1e1e1e" stroke-width="2.8" stroke-linecap="round" stroke-linejoin="round"/>
<path d="M237.3,162.3 C235.2,164.2 232.8,165.2 230.3,165.4" transform="translate(0 0)" fill="none" stroke="#1e1e1e" stroke-width="1.6" stroke-linecap="round" stroke-linejoin="round"/>
<path d="M227.1,162.3 C228.5,163.8 228.8,166 228.9,168.5 L230.6,177.5" transform="translate(0 0)" fill="none" stroke="#1e1e1e" stroke-width="1.5" stroke-linecap="round" stroke-linejoin="round"/>
<path d="M237.4,163 L238.3,174.8" transform="translate(0 0)" fill="none" stroke="#1e1e1e" stroke-width="1.7" stroke-linecap="round" stroke-linejoin="round"/>
<circle cx="232.1" cy="177.4" r="1.9" fill="#fff" stroke="#1e1e1e" stroke-width="1.2"/>
<circle cx="237.7" cy="176.4" r="1.9" fill="#fff" stroke="#1e1e1e" stroke-width="1.2"/>
<path d="M229.5,167.5 L237.6,165.5 L238.6,175 L231,178 Z" transform="translate(17.8 9.8)" fill="#fff" stroke="#222" stroke-width="1.0" stroke-linecap="round" stroke-linejoin="round"/>
<path d="M231.8,168 L233.2,176 M235.3,167 L236,175" transform="translate(17.8 9.8)" fill="none" stroke="#2a2a2a" stroke-width="1.5" stroke-linecap="round" stroke-linejoin="round"/>
<path d="M239.7,151.6 C240.4,154.5 239.6,158.5 237.3,162.3" transform="translate(17.8 9.8)" fill="none" stroke="#1e1e1e" stroke-width="2.8" stroke-linecap="round" stroke-linejoin="round"/>
<path d="M237.3,162.3 C235.2,164.2 232.8,165.2 230.3,165.4" transform="translate(17.8 9.8)" fill="none" stroke="#1e1e1e" stroke-width="1.6" stroke-linecap="round" stroke-linejoin="round"/>
<path d="M227.1,162.3 C228.5,163.8 228.8,166 228.9,168.5 L230.6,177.5" transform="translate(17.8 9.8)" fill="none" stroke="#1e1e1e" stroke-width="1.5" stroke-linecap="round" stroke-linejoin="round"/>
<path d="M237.4,163 L238.3,174.8" transform="translate(17.8 9.8)" fill="none" stroke="#1e1e1e" stroke-width="1.7" stroke-linecap="round" stroke-linejoin="round"/>
<circle cx="249.9" cy="187.2" r="1.9" fill="#fff" stroke="#1e1e1e" stroke-width="1.2"/>
<circle cx="255.5" cy="186.2" r="1.9" fill="#fff" stroke="#1e1e1e" stroke-width="1.2"/>
<path d="M251.6,202.5 L261.8,201.5 L262.2,208.5 L252.5,209.8 Z" transform="translate(0 0)" fill="#fff" stroke="#222" stroke-width="1.0" stroke-linecap="round" stroke-linejoin="round"/>
<path d="M254.3,202.8 L255.2,207.8 M258.6,202.3 L259.1,207.3" transform="translate(0 0)" fill="none" stroke="#2a2a2a" stroke-width="1.5" stroke-linecap="round" stroke-linejoin="round"/>
<path d="M251.9,192.9 C250.9,195.5 251.1,200 251.6,205.5" transform="translate(0 0)" fill="none" stroke="#1e1e1e" stroke-width="2.0" stroke-linecap="round" stroke-linejoin="round"/>
<path d="M252.9,197.2 C253.8,198.6 255.5,199 257.5,198 C259.5,197 261,194.5 261.9,191.2" transform="translate(0 0)" fill="none" stroke="#1e1e1e" stroke-width="1.7" stroke-linecap="round" stroke-linejoin="round"/>
<path d="M260.9,199.2 L260.9,204.5" transform="translate(0 0)" fill="none" stroke="#1e1e1e" stroke-width="1.6" stroke-linecap="round" stroke-linejoin="round"/>
<circle cx="252.6" cy="207.4" r="1.5" fill="#fff" stroke="#1e1e1e" stroke-width="1.1"/>
<circle cx="256.9" cy="208.6" r="1.5" fill="#fff" stroke="#1e1e1e" stroke-width="1.1"/>
<circle cx="260.6" cy="207.8" r="1.5" fill="#fff" stroke="#1e1e1e" stroke-width="1.1"/>
<ellipse cx="0" cy="0" rx="7.74" ry="12.10" transform="translate(274.23 182.82) rotate(27.0)" fill="#6a6a6a" stroke="#2a2a2a" stroke-width="1.40" stroke-dasharray="1.10 1.10"/>
<ellipse cx="0" cy="0" rx="7.74" ry="12.10" transform="translate(275.38 183.48) rotate(27.0)" fill="#6a6a6a" stroke="#2a2a2a" stroke-width="1.40" stroke-dasharray="1.10 1.10"/>
<ellipse cx="0" cy="0" rx="7.74" ry="12.10" transform="translate(276.54 184.14) rotate(27.0)" fill="#6a6a6a" stroke="#2a2a2a" stroke-width="1.40" stroke-dasharray="1.10 1.10"/>
<ellipse cx="0" cy="0" rx="7.74" ry="12.10" transform="translate(277.70 184.80) rotate(27.0)" fill="#fff" stroke="#2a2a2a" stroke-width="1.40" stroke-dasharray="1.10 1.10"/>
<ellipse cx="0" cy="0" rx="7.30" ry="11.40" transform="translate(277.70 184.80) rotate(27.0)" fill="#fff" stroke="#333" stroke-width="0.8"/>
<ellipse cx="0" cy="0" rx="6.23" ry="9.73" transform="translate(277.70 184.80) rotate(27.0)" fill="none" stroke="#555" stroke-width="0.7"/>
<ellipse cx="0" cy="0" rx="4.92" ry="7.68" transform="translate(277.50 184.80) rotate(27.0)" fill="#c8c8c8" stroke="#444" stroke-width="0.7"/>
<ellipse cx="0" cy="0" rx="4.10" ry="6.40" transform="translate(277.50 184.80) rotate(27.0)" fill="none" stroke="#222" stroke-width="1.79" stroke-dasharray="2.30 1.79"/>
<ellipse cx="0" cy="0" rx="2.46" ry="3.84" transform="translate(277.70 185.00) rotate(27.0)" fill="#fff" stroke="#222" stroke-width="1.0"/>
<ellipse cx="0" cy="0" rx="1.23" ry="1.92" transform="translate(277.90 185.10) rotate(27.0)" fill="#fff" stroke="#444" stroke-width="0.7"/>
<ellipse cx="0" cy="0" rx="7.31" ry="11.60" transform="translate(291.63 193.52) rotate(27.0)" fill="#6a6a6a" stroke="#2a2a2a" stroke-width="1.40" stroke-dasharray="1.10 1.10"/>
<ellipse cx="0" cy="0" rx="7.31" ry="11.60" transform="translate(292.78 194.18) rotate(27.0)" fill="#6a6a6a" stroke="#2a2a2a" stroke-width="1.40" stroke-dasharray="1.10 1.10"/>
<ellipse cx="0" cy="0" rx="7.31" ry="11.60" transform="translate(293.94 194.84) rotate(27.0)" fill="#6a6a6a" stroke="#2a2a2a" stroke-width="1.40" stroke-dasharray="1.10 1.10"/>
<ellipse cx="0" cy="0" rx="7.31" ry="11.60" transform="translate(295.10 195.50) rotate(27.0)" fill="#fff" stroke="#2a2a2a" stroke-width="1.40" stroke-dasharray="1.10 1.10"/>
<ellipse cx="0" cy="0" rx="6.87" ry="10.90" transform="translate(295.10 195.50) rotate(27.0)" fill="#fff" stroke="#333" stroke-width="0.8"/>
<ellipse cx="0" cy="0" rx="5.89" ry="9.35" transform="translate(295.10 195.50) rotate(27.0)" fill="none" stroke="#555" stroke-width="0.7"/>
<ellipse cx="0" cy="0" rx="4.65" ry="7.38" transform="translate(294.90 195.50) rotate(27.0)" fill="#c8c8c8" stroke="#444" stroke-width="0.7"/>
<ellipse cx="0" cy="0" rx="3.87" ry="6.15" transform="translate(294.90 195.50) rotate(27.0)" fill="none" stroke="#222" stroke-width="1.72" stroke-dasharray="2.21 1.72"/>
<ellipse cx="0" cy="0" rx="2.32" ry="3.69" transform="translate(295.10 195.70) rotate(27.0)" fill="#fff" stroke="#222" stroke-width="1.0"/>
<ellipse cx="0" cy="0" rx="1.16" ry="1.84" transform="translate(295.30 195.80) rotate(27.0)" fill="#fff" stroke="#444" stroke-width="0.7"/>
<line x1="306" y1="201.5" x2="356.5" y2="228.5" stroke="#333" stroke-width="6.2"/>
<line x1="306" y1="201.5" x2="356.5" y2="228.5" stroke="#fff" stroke-width="4.4"/>
<line x1="316" y1="207" x2="326.2" y2="212.6" stroke="#333" stroke-width="9.2"/>
<line x1="316" y1="207" x2="326.2" y2="212.6" stroke="#fff" stroke-width="7.4"/>
<line x1="317.34" y1="204.57" x2="327.54" y2="210.17" stroke="#444" stroke-width="0.7"/>
<line x1="316.45" y1="206.19" x2="326.65" y2="211.79" stroke="#444" stroke-width="0.7"/>
<line x1="315.55" y1="207.81" x2="325.75" y2="213.41" stroke="#444" stroke-width="0.7"/>
<line x1="314.66" y1="209.43" x2="324.86" y2="215.03" stroke="#444" stroke-width="0.7"/>
<ellipse cx="0" cy="0" rx="2.60" ry="4.60" transform="translate(326.20 212.60) rotate(27.0)" fill="#fff" stroke="#333" stroke-width="0.8"/>
<line x1="329" y1="214.2" x2="339.6" y2="220" stroke="#333" stroke-width="10.2"/>
<line x1="329" y1="214.2" x2="339.6" y2="220" stroke="#fff" stroke-width="8.4"/>
<line x1="330.51" y1="211.44" x2="341.11" y2="217.24" stroke="#444" stroke-width="0.7"/>
<line x1="329.50" y1="213.28" x2="340.10" y2="219.08" stroke="#444" stroke-width="0.7"/>
<line x1="328.50" y1="215.12" x2="339.10" y2="220.92" stroke="#444" stroke-width="0.7"/>
<line x1="327.49" y1="216.96" x2="338.09" y2="222.76" stroke="#444" stroke-width="0.7"/>
<ellipse cx="0" cy="0" rx="2.80" ry="5.10" transform="translate(339.60 220.00) rotate(27.0)" fill="#fff" stroke="#333" stroke-width="0.8"/>
<line x1="348" y1="224" x2="356.5" y2="228.5" stroke="#333" stroke-width="6.4"/>
<line x1="348" y1="224" x2="356.5" y2="228.5" stroke="#fff" stroke-width="4.6"/>
<line x1="348.72" y1="222.64" x2="357.22" y2="227.14" stroke="#444" stroke-width="0.7"/>
<line x1="348.00" y1="224.00" x2="356.50" y2="228.50" stroke="#444" stroke-width="0.7"/>
<line x1="347.28" y1="225.36" x2="355.78" y2="229.86" stroke="#444" stroke-width="0.7"/>
<ellipse cx="0" cy="0" rx="1.80" ry="3.20" transform="translate(356.70 228.60) rotate(27.0)" fill="#fff" stroke="#333" stroke-width="0.8"/>
<ellipse cx="0" cy="0" rx="1.80" ry="3.10" transform="translate(305.80 201.40) rotate(27.0)" fill="#fff" stroke="#333" stroke-width="1.0"/>
<ellipse cx="0" cy="0" rx="6.70" ry="10.15" transform="translate(365.56 236.22) rotate(27.0)" fill="#6a6a6a" stroke="#2a2a2a" stroke-width="1.50" stroke-dasharray="1.20 1.20"/>
<ellipse cx="0" cy="0" rx="6.70" ry="10.15" transform="translate(367.00 237.05) rotate(27.0)" fill="#6a6a6a" stroke="#2a2a2a" stroke-width="1.50" stroke-dasharray="1.20 1.20"/>
<ellipse cx="0" cy="0" rx="6.70" ry="10.15" transform="translate(368.45 237.87) rotate(27.0)" fill="#6a6a6a" stroke="#2a2a2a" stroke-width="1.50" stroke-dasharray="1.20 1.20"/>
<ellipse cx="0" cy="0" rx="6.70" ry="10.15" transform="translate(369.90 238.70) rotate(27.0)" fill="#fff" stroke="#2a2a2a" stroke-width="1.50" stroke-dasharray="1.20 1.20"/>
<ellipse cx="0" cy="0" rx="6.20" ry="9.40" transform="translate(369.90 238.70) rotate(27.0)" fill="#fff" stroke="#333" stroke-width="0.8"/>
<ellipse cx="0" cy="0" rx="5.47" ry="8.28" transform="translate(369.90 238.70) rotate(27.0)" fill="none" stroke="#555" stroke-width="0.7"/>
<ellipse cx="0" cy="0" rx="4.32" ry="6.54" transform="translate(369.70 238.70) rotate(27.0)" fill="#c8c8c8" stroke="#444" stroke-width="0.7"/>
<ellipse cx="0" cy="0" rx="3.60" ry="5.45" transform="translate(369.70 238.70) rotate(27.0)" fill="none" stroke="#222" stroke-width="1.53" stroke-dasharray="1.96 1.53"/>
<ellipse cx="0" cy="0" rx="2.16" ry="3.27" transform="translate(369.90 238.90) rotate(27.0)" fill="#fff" stroke="#222" stroke-width="1.0"/>
<ellipse cx="0" cy="0" rx="1.08" ry="1.64" transform="translate(370.10 239.00) rotate(27.0)" fill="#fff" stroke="#444" stroke-width="0.7"/>
<ellipse cx="0" cy="0" rx="3.75" ry="5.00" transform="translate(381.43 245.10) rotate(27.0)" fill="#fff" stroke="#555" stroke-width="0.7"/>
<ellipse cx="0" cy="0" rx="3.75" ry="5.00" transform="translate(382.30 245.60) rotate(27.0)" fill="#fff" stroke="#2a2a2a" stroke-width="0.9"/>
<ellipse cx="0" cy="0" rx="2.44" ry="3.25" transform="translate(382.30 245.60) rotate(27.0)" fill="#fff" stroke="#2a2a2a" stroke-width="0.81"/>
<ellipse cx="0" cy="0" rx="2.79" ry="4.50" transform="translate(389.53 250.02) rotate(27.0)" fill="#fff" stroke="#333" stroke-width="0.8"/>
<polygon points="387.48,254.03 390.96,256.01 395.04,247.99 391.57,246.01" fill="#fff" stroke="none"/>
<line x1="387.48" y1="254.03" x2="390.96" y2="256.01" stroke="#333" stroke-width="0.8"/>
<line x1="395.04" y1="247.99" x2="391.57" y2="246.01" stroke="#333" stroke-width="0.8"/>
<ellipse cx="0" cy="0" rx="2.48" ry="4.00" transform="translate(393.00 252.00) rotate(27.0)" fill="#fff" stroke="#1a1a1a" stroke-width="1.0"/>
<ellipse cx="0" cy="0" rx="1.95" ry="3.15" transform="translate(393.00 252.00) rotate(27.0)" fill="#fff" stroke="#1a1a1a" stroke-width="1.0"/>
<ellipse cx="0" cy="0" rx="8.53" ry="13.75" transform="translate(403.83 258.32) rotate(27.0)" fill="#6a6a6a" stroke="#2a2a2a" stroke-width="1.50" stroke-dasharray="1.15 1.15"/>
<ellipse cx="0" cy="0" rx="8.53" ry="13.75" transform="translate(404.98 258.98) rotate(27.0)" fill="#6a6a6a" stroke="#2a2a2a" stroke-width="1.50" stroke-dasharray="1.15 1.15"/>
<ellipse cx="0" cy="0" rx="8.53" ry="13.75" transform="translate(406.14 259.64) rotate(27.0)" fill="#6a6a6a" stroke="#2a2a2a" stroke-width="1.50" stroke-dasharray="1.15 1.15"/>
<ellipse cx="0" cy="0" rx="8.53" ry="13.75" transform="translate(407.30 260.30) rotate(27.0)" fill="#fff" stroke="#2a2a2a" stroke-width="1.50" stroke-dasharray="1.15 1.15"/>
<ellipse cx="0" cy="0" rx="8.06" ry="13.00" transform="translate(407.30 260.30) rotate(27.0)" fill="#fff" stroke="#333" stroke-width="0.8"/>
<ellipse cx="0" cy="0" rx="6.83" ry="11.02" transform="translate(407.30 260.30) rotate(27.0)" fill="none" stroke="#555" stroke-width="0.7"/>
<ellipse cx="0" cy="0" rx="5.39" ry="8.70" transform="translate(407.10 260.30) rotate(27.0)" fill="#c8c8c8" stroke="#444" stroke-width="0.7"/>
<ellipse cx="0" cy="0" rx="4.50" ry="7.25" transform="translate(407.10 260.30) rotate(27.0)" fill="none" stroke="#222" stroke-width="2.03" stroke-dasharray="2.61 2.03"/>
<ellipse cx="0" cy="0" rx="2.70" ry="4.35" transform="translate(407.30 260.50) rotate(27.0)" fill="#fff" stroke="#222" stroke-width="1.0"/>
<ellipse cx="0" cy="0" rx="1.35" ry="2.17" transform="translate(407.50 260.60) rotate(27.0)" fill="#fff" stroke="#444" stroke-width="0.7"/>
<ellipse cx="0" cy="0" rx="3.54" ry="5.20" transform="translate(418.93 266.90) rotate(27.0)" fill="#fff" stroke="#555" stroke-width="0.7"/>
<ellipse cx="0" cy="0" rx="3.54" ry="5.20" transform="translate(419.80 267.40) rotate(27.0)" fill="#fff" stroke="#2a2a2a" stroke-width="1.3"/>
<ellipse cx="0" cy="0" rx="2.19" ry="3.22" transform="translate(419.80 267.40) rotate(27.0)" fill="#fff" stroke="#2a2a2a" stroke-width="1.1700000000000002"/>
<ellipse cx="0" cy="0" rx="4.28" ry="6.30" transform="translate(429.63 272.90) rotate(27.0)" fill="#fff" stroke="#555" stroke-width="0.7"/>
<ellipse cx="0" cy="0" rx="4.28" ry="6.30" transform="translate(430.50 273.40) rotate(27.0)" fill="#fff" stroke="#2a2a2a" stroke-width="0.9"/>
<ellipse cx="0" cy="0" rx="2.14" ry="3.15" transform="translate(430.50 273.40) rotate(27.0)" fill="#fff" stroke="#2a2a2a" stroke-width="0.81"/>
<line x1="115.5" y1="222.4" x2="140" y2="236.8" stroke="#333" stroke-width="5.8"/>
<line x1="115.5" y1="222.4" x2="140" y2="236.8" stroke="#fff" stroke-width="4"/>
<line x1="116" y1="222.7" x2="124.5" y2="227.7" stroke="#333" stroke-width="5.8"/>
<line x1="116" y1="222.7" x2="124.5" y2="227.7" stroke="#fff" stroke-width="4"/>
<line x1="116.68" y1="221.55" x2="125.18" y2="226.55" stroke="#555" stroke-width="0.7"/>
<line x1="116.00" y1="222.70" x2="124.50" y2="227.70" stroke="#555" stroke-width="0.7"/>
<line x1="115.32" y1="223.85" x2="123.82" y2="228.85" stroke="#555" stroke-width="0.7"/>
<ellipse cx="0" cy="0" rx="1.70" ry="2.60" transform="translate(115.50 222.40) rotate(27.0)" fill="#fff" stroke="#333" stroke-width="0.8"/>
<ellipse cx="0" cy="0" rx="5.85" ry="9.75" transform="translate(138.16 235.99) rotate(27.0)" fill="#6a6a6a" stroke="#2a2a2a" stroke-width="1.50" stroke-dasharray="1.30 1.30"/>
<ellipse cx="0" cy="0" rx="5.85" ry="9.75" transform="translate(139.60 236.81) rotate(27.0)" fill="#6a6a6a" stroke="#2a2a2a" stroke-width="1.50" stroke-dasharray="1.30 1.30"/>
<ellipse cx="0" cy="0" rx="5.85" ry="9.75" transform="translate(141.05 237.64) rotate(27.0)" fill="#6a6a6a" stroke="#2a2a2a" stroke-width="1.50" stroke-dasharray="1.30 1.30"/>
<ellipse cx="0" cy="0" rx="5.85" ry="9.75" transform="translate(142.50 238.47) rotate(27.0)" fill="#fff" stroke="#2a2a2a" stroke-width="1.50" stroke-dasharray="1.30 1.30"/>
<ellipse cx="0" cy="0" rx="5.40" ry="9.00" transform="translate(142.50 238.47) rotate(27.0)" fill="#fff" stroke="#333" stroke-width="0.8"/>
<ellipse cx="0" cy="0" rx="6.15" ry="10.25" transform="translate(145.03 240.05) rotate(27.0)" fill="#6a6a6a" stroke="#2a2a2a" stroke-width="1.50" stroke-dasharray="1.30 1.30"/>
<ellipse cx="0" cy="0" rx="6.15" ry="10.25" transform="translate(146.18 240.71) rotate(27.0)" fill="#6a6a6a" stroke="#2a2a2a" stroke-width="1.50" stroke-dasharray="1.30 1.30"/>
<ellipse cx="0" cy="0" rx="6.15" ry="10.25" transform="translate(147.34 241.37) rotate(27.0)" fill="#6a6a6a" stroke="#2a2a2a" stroke-width="1.50" stroke-dasharray="1.30 1.30"/>
<ellipse cx="0" cy="0" rx="6.15" ry="10.25" transform="translate(148.50 242.03) rotate(27.0)" fill="#fff" stroke="#2a2a2a" stroke-width="1.50" stroke-dasharray="1.30 1.30"/>
<ellipse cx="0" cy="0" rx="5.70" ry="9.50" transform="translate(148.50 242.03) rotate(27.0)" fill="#fff" stroke="#333" stroke-width="0.8"/>
<ellipse cx="0" cy="0" rx="6.45" ry="10.75" transform="translate(153.03 244.81) rotate(27.0)" fill="#6a6a6a" stroke="#2a2a2a" stroke-width="1.50" stroke-dasharray="1.30 1.30"/>
<ellipse cx="0" cy="0" rx="6.45" ry="10.75" transform="translate(154.18 245.47) rotate(27.0)" fill="#6a6a6a" stroke="#2a2a2a" stroke-width="1.50" stroke-dasharray="1.30 1.30"/>
<ellipse cx="0" cy="0" rx="6.45" ry="10.75" transform="translate(155.34 246.13) rotate(27.0)" fill="#6a6a6a" stroke="#2a2a2a" stroke-width="1.50" stroke-dasharray="1.30 1.30"/>
<ellipse cx="0" cy="0" rx="6.45" ry="10.75" transform="translate(156.50 246.80) rotate(27.0)" fill="#fff" stroke="#2a2a2a" stroke-width="1.50" stroke-dasharray="1.30 1.30"/>
<ellipse cx="0" cy="0" rx="6.00" ry="10.00" transform="translate(156.50 246.80) rotate(27.0)" fill="#fff" stroke="#333" stroke-width="0.8"/>
<ellipse cx="0" cy="0" rx="6.45" ry="10.75" transform="translate(160.16 249.08) rotate(27.0)" fill="#6a6a6a" stroke="#2a2a2a" stroke-width="1.50" stroke-dasharray="1.30 1.30"/>
<ellipse cx="0" cy="0" rx="6.45" ry="10.75" transform="translate(161.60 249.90) rotate(27.0)" fill="#6a6a6a" stroke="#2a2a2a" stroke-width="1.50" stroke-dasharray="1.30 1.30"/>
<ellipse cx="0" cy="0" rx="6.45" ry="10.75" transform="translate(163.05 250.73) rotate(27.0)" fill="#6a6a6a" stroke="#2a2a2a" stroke-width="1.50" stroke-dasharray="1.30 1.30"/>
<ellipse cx="0" cy="0" rx="6.45" ry="10.75" transform="translate(164.50 251.56) rotate(27.0)" fill="#fff" stroke="#2a2a2a" stroke-width="1.50" stroke-dasharray="1.30 1.30"/>
<ellipse cx="0" cy="0" rx="6.00" ry="10.00" transform="translate(164.50 251.56) rotate(27.0)" fill="#fff" stroke="#333" stroke-width="0.8"/>
<ellipse cx="0" cy="0" rx="4.20" ry="5.60" transform="translate(165.00 251.60) rotate(27.0)" fill="#fff" stroke="#333" stroke-width="0.8"/>
<ellipse cx="0" cy="0" rx="2.80" ry="3.60" transform="translate(166.00 252.40) rotate(27.0)" fill="#fff" stroke="#222" stroke-width="1"/>
<ellipse cx="0" cy="0" rx="1.30" ry="1.80" transform="translate(166.80 253.00) rotate(27.0)" fill="#fff" stroke="#333" stroke-width="0.8"/>
<ellipse cx="0" cy="0" rx="5.50" ry="8.60" transform="translate(188.86 266.02) rotate(27.0)" fill="#fff" stroke="#444" stroke-width="0.8"/>
<polygon points="184.95,273.69 189.30,276.16 197.10,260.84 192.76,258.36" fill="#fff" stroke="none"/>
<line x1="184.95" y1="273.69" x2="189.30" y2="276.16" stroke="#444" stroke-width="0.8"/>
<line x1="197.10" y1="260.84" x2="192.76" y2="258.36" stroke="#444" stroke-width="0.8"/>
<ellipse cx="0" cy="0" rx="5.50" ry="8.60" transform="translate(193.20 268.50) rotate(27.0)" fill="#fff" stroke="#333" stroke-width="1.4"/>
<ellipse cx="0" cy="0" rx="4.73" ry="7.40" transform="translate(193.20 268.50) rotate(27.0)" fill="none" stroke="#555" stroke-width="0.7"/>
<ellipse cx="0" cy="0" rx="3.96" ry="6.19" transform="translate(193.20 268.50) rotate(27.0)" fill="none" stroke="#666" stroke-width="1.3" stroke-dasharray="1.0 1.2"/>
<ellipse cx="0" cy="0" rx="3.08" ry="4.82" transform="translate(193.20 268.50) rotate(27.0)" fill="#fff" stroke="#444" stroke-width="0.9"/>
<ellipse cx="0" cy="0" rx="2.20" ry="3.44" transform="translate(193.20 268.50) rotate(27.0)" fill="#fff" stroke="#555" stroke-width="0.7"/>
<path d="M211.3,264.9 C209,267.5 205.5,272 203.2,277.5 C201.5,281.5 200.6,285.5 200.6,289.3 L203.2,289.9 L204.2,286.4 L206.3,286.6 L206.4,284.5 L204.3,284 C204.6,280 205.6,277.5 207.2,275.5 C209.5,272.5 212,270 214,267 C214.6,265.2 213,264 211.3,264.9 Z" fill="#fff" stroke="#1e1e1e" stroke-width="1.1" stroke-linejoin="round" stroke-linecap="round" />
<path d="M211.8,267 L209.6,269.6" fill="none" stroke="#333" stroke-width="1.0" stroke-linejoin="round" stroke-linecap="round" />
<path d="M201.6,283 C201.8,280 202.8,277.5 204,275.5" fill="none" stroke="#555" stroke-width="0.8" stroke-linejoin="round" stroke-linecap="round" />
<path d="M211.3,292.3 L215.3,294.5" fill="none" stroke="#1e1e1e" stroke-width="3.4" stroke-linejoin="round" stroke-linecap="round" />
<ellipse cx="0" cy="0" rx="1.10" ry="1.80" transform="translate(215.60 294.60) rotate(25.0)" fill="#bbb" stroke="#333" stroke-width="0.7"/>
<ellipse cx="0" cy="0" rx="4.26" ry="7.60" transform="translate(516.16 323.47) rotate(27.0)" fill="#fff" stroke="#333" stroke-width="0.8"/>
<polygon points="512.71,330.24 515.75,331.97 522.65,318.43 519.61,316.69" fill="#fff" stroke="none"/>
<line x1="512.71" y1="330.24" x2="515.75" y2="331.97" stroke="#333" stroke-width="0.8"/>
<line x1="522.65" y1="318.43" x2="519.61" y2="316.69" stroke="#333" stroke-width="0.8"/>
<ellipse cx="0" cy="0" rx="3.64" ry="6.50" transform="translate(519.20 325.20) rotate(27.0)" fill="#fff" stroke="#2a2a2a" stroke-width="2.2"/>
<ellipse cx="0" cy="0" rx="2.34" ry="4.18" transform="translate(519.20 325.20) rotate(27.0)" fill="#fff" stroke="#2a2a2a" stroke-width="1.0"/>
<ellipse cx="0" cy="0" rx="1.70" ry="3.04" transform="translate(519.20 325.20) rotate(27.0)" fill="#fff" stroke="#555" stroke-width="0.7"/>
<path d="M540.73,338.64 L540.50,338.92 L540.15,339.13 L539.71,339.25 L539.20,339.29 L538.68,339.28 L538.16,339.24 L537.70,339.19 L537.52,339.39 L537.35,339.59 L537.18,339.79 L537.00,339.98 L536.82,340.17 L536.65,340.37 L536.68,340.90 L536.72,341.49 L536.72,342.09 L536.68,342.67 L536.56,343.17 L536.38,343.56 L536.13,343.82 L535.82,343.92 L535.47,343.87 L535.10,343.68 L534.72,343.38 L534.36,343.01 L534.02,342.62 L533.72,342.26 L533.49,342.32 L533.27,342.39 L533.04,342.46 L532.81,342.52 L532.59,342.57 L532.36,342.63 L532.11,343.14 L531.82,343.70 L531.51,344.26 L531.18,344.75 L530.83,345.14 L530.50,345.37 L530.19,345.44 L529.92,345.32 L529.70,345.04 L529.54,344.61 L529.43,344.08 L529.37,343.49 L529.33,342.91 L529.31,342.37 L529.12,342.27 L528.92,342.18 L528.73,342.09 L528.54,341.99 L528.36,341.88 L528.17,341.79 L527.72,342.08 L527.22,342.40 L526.71,342.70 L526.22,342.92 L525.78,343.04 L525.42,343.03 L525.17,342.88 L525.04,342.59 L525.03,342.18 L525.14,341.68 L525.35,341.12 L525.61,340.54 L525.90,339.98 L526.16,339.47 L526.08,339.25 L525.99,339.04 L525.90,338.82 L525.82,338.60 L525.75,338.38 L525.66,338.16 L525.19,338.13 L524.68,338.08 L524.17,338.01 L523.70,337.88 L523.33,337.69 L523.08,337.43 L522.98,337.12 L523.04,336.77 L523.26,336.39 L523.60,336.00 L524.03,335.63 L524.52,335.28 L525.02,334.96 L525.47,334.68 L525.53,334.42 L525.58,334.16 L525.63,333.90 L525.69,333.65 L525.76,333.39 L525.81,333.13 L525.50,332.78 L525.16,332.39 L524.84,331.97 L524.58,331.54 L524.42,331.11 L524.38,330.71 L524.47,330.36 L524.70,330.08 L525.05,329.87 L525.49,329.75 L526.00,329.71 L526.52,329.72 L527.04,329.76 L527.50,329.81 L527.68,329.61 L527.85,329.41 L528.02,329.21 L528.20,329.02 L528.38,328.83 L528.55,328.63 L528.52,328.10 L528.48,327.51 L528.48,326.91 L528.52,326.33 L528.64,325.83 L528.82,325.44 L529.07,325.18 L529.38,325.08 L529.73,325.13 L530.10,325.32 L530.48,325.62 L530.84,325.99 L531.18,326.38 L531.48,326.74 L531.71,326.68 L531.93,326.61 L532.16,326.54 L532.39,326.48 L532.61,326.43 L532.84,326.37 L533.09,325.86 L533.38,325.30 L533.69,324.74 L534.02,324.25 L534.37,323.86 L534.70,323.63 L535.01,323.56 L535.28,323.68 L535.50,323.96 L535.66,324.39 L535.77,324.92 L535.83,325.51 L535.87,326.09 L535.89,326.63 L536.08,326.73 L536.28,326.82 L536.47,326.91 L536.66,327.01 L536.84,327.12 L537.03,327.21 L537.48,326.92 L537.98,326.60 L538.49,326.30 L538.98,326.08 L539.42,325.96 L539.78,325.97 L540.03,326.12 L540.16,326.41 L540.17,326.82 L540.06,327.32 L539.85,327.88 L539.59,328.46 L539.30,329.02 L539.04,329.53 L539.12,329.75 L539.21,329.96 L539.30,330.18 L539.38,330.40 L539.45,330.62 L539.54,330.84 L540.01,330.87 L540.52,330.92 L541.03,330.99 L541.50,331.12 L541.87,331.31 L542.12,331.57 L542.22,331.88 L542.16,332.23 L541.94,332.61 L541.60,333.00 L541.17,333.37 L540.68,333.72 L540.18,334.04 L539.73,334.32 L539.67,334.58 L539.62,334.84 L539.57,335.10 L539.51,335.35 L539.44,335.61 L539.39,335.87 L539.70,336.22 L540.04,336.61 L540.36,337.03 L540.62,337.46 L540.78,337.89 L540.82,338.29 L540.73,338.64 Z" fill="#fff" stroke="#333" stroke-width="1.1" stroke-linejoin="round"/>
<ellipse cx="0" cy="0" rx="3.20" ry="5.20" transform="translate(532.60 334.50) rotate(35.0)" fill="#888" stroke="#222" stroke-width="1.0" stroke-dasharray="1 0.8"/>
<ellipse cx="0" cy="0" rx="1.60" ry="2.60" transform="translate(532.80 334.60) rotate(35.0)" fill="#fff" stroke="#333" stroke-width="0.7"/>
<ellipse cx="0" cy="0" rx="3.60" ry="6.60" transform="translate(546.80 342.70) rotate(52.0)" fill="#fff" stroke="#333" stroke-width="1.1"/>
<ellipse cx="0" cy="0" rx="1.90" ry="3.80" transform="translate(547.20 342.60) rotate(52.0)" fill="#fff" stroke="#333" stroke-width="1.0"/>
<ellipse cx="0" cy="0" rx="1.10" ry="1.70" transform="translate(558.30 344.80) rotate(20.0)" fill="#fff" stroke="#222" stroke-width="1.0"/>
<path d="M563.5,347.8 L568,350.5" fill="none" stroke="#1a1a1a" stroke-width="3.6" stroke-linejoin="round" stroke-linecap="round" />
<ellipse cx="0" cy="0" rx="1.30" ry="2.10" transform="translate(563.40 347.70) rotate(25.0)" fill="#555" stroke="#222" stroke-width="0.8"/>
<line x1="552" y1="394.5" x2="561" y2="399.6" stroke="#222" stroke-width="5.2"/>
<line x1="552" y1="394.5" x2="561" y2="399.6" stroke="#555" stroke-width="3.2"/>
<line x1="552.53" y1="393.57" x2="561.53" y2="398.67" stroke="#222" stroke-width="0.7"/>
<line x1="552.00" y1="394.50" x2="561.00" y2="399.60" stroke="#222" stroke-width="0.7"/>
<line x1="551.47" y1="395.43" x2="560.47" y2="400.53" stroke="#222" stroke-width="0.7"/>
<ellipse cx="0" cy="0" rx="1.50" ry="2.60" transform="translate(561.20 399.70) rotate(25.0)" fill="#ccc" stroke="#333" stroke-width="0.8"/>
<ellipse cx="0" cy="0" rx="2.70" ry="4.30" transform="translate(549.30 393.80) rotate(20.0)" fill="#fff" stroke="#333" stroke-width="1.0"/>
<ellipse cx="0" cy="0" rx="2.00" ry="3.40" transform="translate(550.60 394.60) rotate(20.0)" fill="#eee" stroke="#444" stroke-width="0.8"/>
<path d="M515 0V1237L197 1010V1180L530 1409H696V0Z" transform="translate(5.30 18.00) scale(0.006836 -0.006836)" fill="#1c1c1c" stroke="#1c1c1c" stroke-width="36"/>
<text x="13.09" y="18">2</text>
<path d="M515 0V1237L197 1010V1180L530 1409H696V0Z" transform="translate(149.10 68.80) scale(0.006836 -0.006836)" fill="#1c1c1c" stroke="#1c1c1c" stroke-width="36"/>
<path d="M515 0V1237L197 1010V1180L530 1409H696V0Z" transform="translate(156.89 68.80) scale(0.006836 -0.006836)" fill="#1c1c1c" stroke="#1c1c1c" stroke-width="36"/>
<text x="181.30" y="68.8">7</text>
<path d="M515 0V1237L197 1010V1180L530 1409H696V0Z" transform="translate(206.30 83.70) scale(0.006836 -0.006836)" fill="#1c1c1c" stroke="#1c1c1c" stroke-width="36"/>
<text x="214.09" y="83.7">3</text>
<text x="182.60" y="87.5">2</text>
<text x="203.50" y="98.3">2</text>
<path d="M515 0V1237L197 1010V1180L530 1409H696V0Z" transform="translate(211.29 98.30) scale(0.006836 -0.006836)" fill="#1c1c1c" stroke="#1c1c1c" stroke-width="36"/>
<path d="M515 0V1237L197 1010V1180L530 1409H696V0Z" transform="translate(234.30 99.50) scale(0.006836 -0.006836)" fill="#1c1c1c" stroke="#1c1c1c" stroke-width="36"/>
<text x="242.09" y="99.5">4</text>
<path d="M515 0V1237L197 1010V1180L530 1409H696V0Z" transform="translate(229.30 114.70) scale(0.006836 -0.006836)" fill="#1c1c1c" stroke="#1c1c1c" stroke-width="36"/>
<text x="237.09" y="114.7">5</text>
<text x="371.00" y="136.7">6</text>
<text x="324.30" y="150.3">9</text>
<path d="M515 0V1237L197 1010V1180L530 1409H696V0Z" transform="translate(339.30 163.30) scale(0.006836 -0.006836)" fill="#1c1c1c" stroke="#1c1c1c" stroke-width="36"/>
<text x="347.09" y="163.3">0</text>
<text x="139.00" y="184.7">2</text>
<text x="146.79" y="184.7">7</text>
<text x="164.30" y="198.7">3</text>
<path d="M515 0V1237L197 1010V1180L530 1409H696V0Z" transform="translate(172.09 198.70) scale(0.006836 -0.006836)" fill="#1c1c1c" stroke="#1c1c1c" stroke-width="36"/>
<text x="196.00" y="219.5">2</text>
<text x="203.79" y="219.5">6</text>
<text x="220.10" y="230">3</text>
<text x="227.89" y="230">2</text>
<text x="375.30" y="183">3</text>
<text x="383.09" y="183">0</text>
<text x="413.50" y="203.3">2</text>
<text x="421.29" y="203.3">9</text>
<path d="M515 0V1237L197 1010V1180L530 1409H696V0Z" transform="translate(416.80 223.00) scale(0.006836 -0.006836)" fill="#1c1c1c" stroke="#1c1c1c" stroke-width="36"/>
<text x="424.59" y="223">7</text>
<text x="442.30" y="220">2</text>
<text x="450.09" y="220">8</text>
<text x="443.00" y="237">8</text>
<path d="M515 0V1237L197 1010V1180L530 1409H696V0Z" transform="translate(469.30 234.70) scale(0.006836 -0.006836)" fill="#1c1c1c" stroke="#1c1c1c" stroke-width="36"/>
<text x="477.09" y="234.7">6</text>
<path d="M515 0V1237L197 1010V1180L530 1409H696V0Z" transform="translate(467.30 252.00) scale(0.006836 -0.006836)" fill="#1c1c1c" stroke="#1c1c1c" stroke-width="36"/>
<text x="475.09" y="252">8</text>
<path d="M515 0V1237L197 1010V1180L530 1409H696V0Z" transform="translate(88.30 277.70) scale(0.006836 -0.006836)" fill="#1c1c1c" stroke="#1c1c1c" stroke-width="36"/>
<text x="133.50" y="304.7">2</text>
<text x="141.29" y="304.7">0</text>
<text x="152.30" y="316">4</text>
<text x="168.00" y="323.6">5</text>
<path d="M515 0V1237L197 1010V1180L530 1409H696V0Z" transform="translate(547.10 306.40) scale(0.006836 -0.006836)" fill="#1c1c1c" stroke="#1c1c1c" stroke-width="36"/>
<text x="554.89" y="306.4">9</text>
<text x="577.10" y="323.7">2</text>
<text x="584.89" y="323.7">3</text>
<text x="577.10" y="341.8">2</text>
<text x="584.89" y="341.8">4</text>
<text x="489.30" y="366.2">2</text>
<text x="497.09" y="366.2">2</text>
<text x="507.00" y="376.8">2</text>
<text x="514.79" y="376.8">5</text>
<text x="518.50" y="417.5">3</text>
</svg>
</body></html>
